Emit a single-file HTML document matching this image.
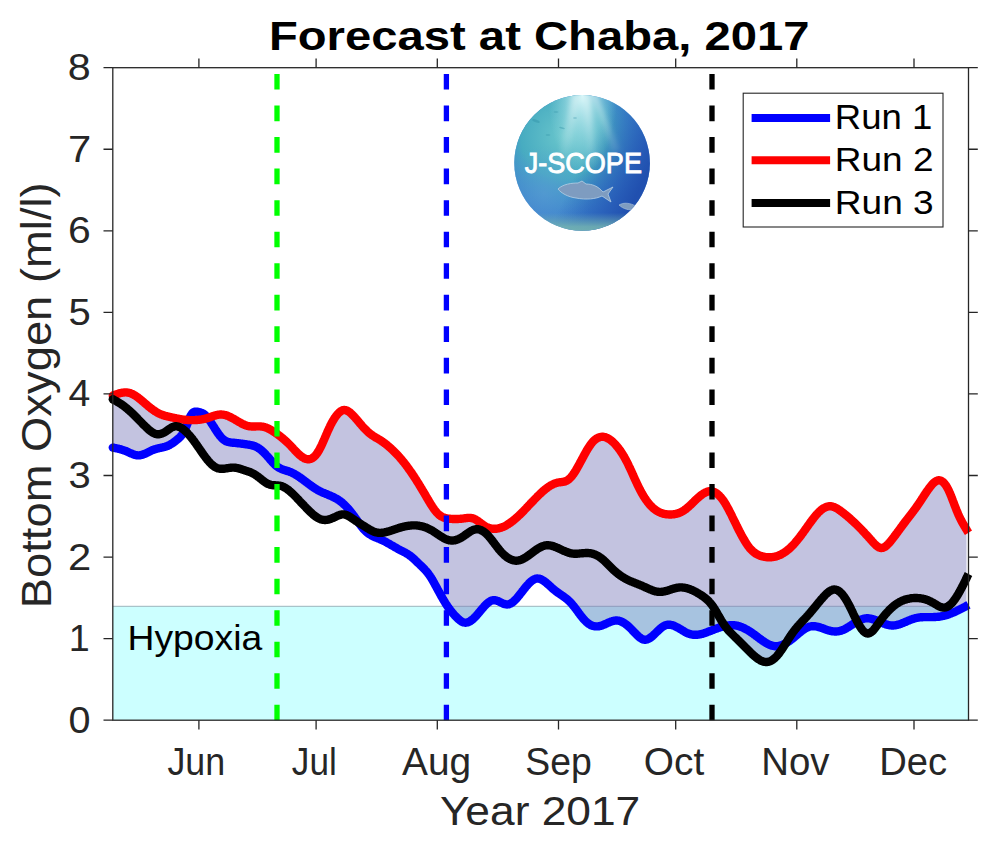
<!DOCTYPE html><html><head><meta charset="utf-8"><style>html,body{margin:0;padding:0;background:#fff;width:1000px;height:848px;overflow:hidden}svg{display:block}text{font-family:"Liberation Sans",sans-serif}</style></head><body>
<svg width="1000" height="848" viewBox="0 0 1000 848">
<rect x="112.8" y="606.31" width="855.70" height="113.89" fill="#ccffff"/>
<line x1="112.8" y1="606.31" x2="968.5" y2="606.31" stroke="#9cb4bc" stroke-width="1"/>
<polygon points="112.8,395.7 113.3,395.5 113.8,395.3 114.3,395.1 114.8,394.9 115.3,394.7 115.8,394.5 116.3,394.3 116.8,394.2 117.3,394.0 117.8,393.8 118.3,393.7 118.8,393.5 119.3,393.4 119.8,393.2 120.3,393.1 120.8,393.0 121.3,392.9 121.8,392.8 122.3,392.7 122.8,392.6 123.3,392.6 123.8,392.5 124.3,392.5 124.8,392.4 125.3,392.4 125.8,392.4 126.3,392.4 126.8,392.5 127.3,392.5 127.8,392.6 128.3,392.7 128.8,392.8 129.3,392.9 129.8,393.0 130.3,393.2 130.8,393.4 131.3,393.6 131.8,393.8 132.3,394.0 132.8,394.2 133.3,394.5 133.8,394.8 134.3,395.1 134.8,395.4 135.3,395.7 135.8,396.0 136.3,396.3 136.8,396.7 137.3,397.0 137.8,397.4 138.3,397.8 138.8,398.2 139.3,398.6 139.8,399.0 140.3,399.4 140.8,399.8 141.3,400.2 141.8,400.6 142.3,401.0 142.8,401.5 143.3,401.9 143.8,402.3 144.3,402.7 144.8,403.2 145.3,403.6 145.8,404.0 146.3,404.5 146.8,404.9 147.3,405.3 147.8,405.7 148.3,406.2 148.8,406.6 149.3,407.0 149.8,407.4 150.3,407.8 150.8,408.2 151.3,408.6 151.8,408.9 152.3,409.3 152.8,409.7 153.3,410.0 153.8,410.4 154.3,410.7 154.8,411.1 155.3,411.4 155.8,411.7 156.3,412.0 156.8,412.3 157.3,412.6 157.8,412.9 158.3,413.1 158.8,413.4 159.3,413.6 159.8,413.9 160.3,414.1 160.8,414.3 161.3,414.5 161.8,414.7 162.3,414.9 162.8,415.1 163.3,415.2 163.8,415.4 164.3,415.6 164.8,415.7 165.3,415.8 165.8,416.0 166.3,416.1 166.8,416.2 167.3,416.4 167.8,416.5 168.3,416.6 168.8,416.7 169.3,416.8 169.8,416.9 170.3,417.0 170.8,417.2 171.3,417.3 171.8,417.4 172.3,417.5 172.8,417.6 173.3,417.7 173.8,417.8 174.3,417.9 174.8,418.0 175.3,418.1 175.8,418.2 176.3,418.3 176.8,418.5 177.3,418.6 177.8,418.7 178.3,418.7 178.8,418.8 179.3,418.9 179.8,419.0 180.3,419.1 180.8,419.2 181.3,419.3 181.8,419.4 182.3,419.4 182.8,419.5 183.3,419.6 183.8,419.6 184.3,419.7 184.8,419.7 185.3,419.8 185.8,419.8 186.3,419.9 186.8,419.9 187.3,420.0 187.8,420.0 188.3,420.0 188.8,420.1 189.3,418.8 189.8,417.6 190.3,416.5 190.8,415.5 191.3,414.7 191.8,413.9 192.3,413.3 192.8,412.8 193.3,412.4 193.8,412.1 194.3,411.8 194.8,411.7 195.3,411.6 195.8,411.6 196.3,411.6 196.8,411.7 197.3,411.7 197.8,411.8 198.3,411.9 198.8,412.0 199.3,412.1 199.8,412.3 200.3,412.4 200.8,412.6 201.3,412.8 201.8,413.0 202.3,413.2 202.8,413.4 203.3,413.7 203.8,414.1 204.3,414.4 204.8,414.8 205.3,415.2 205.8,415.7 206.3,416.2 206.8,416.7 207.3,417.3 207.8,417.9 208.3,417.8 208.8,417.6 209.3,417.4 209.8,417.3 210.3,417.1 210.8,416.9 211.3,416.7 211.8,416.6 212.3,416.4 212.8,416.2 213.3,416.0 213.8,415.9 214.3,415.7 214.8,415.6 215.3,415.4 215.8,415.3 216.3,415.1 216.8,415.0 217.3,414.9 217.8,414.8 218.3,414.7 218.8,414.7 219.3,414.6 219.8,414.5 220.3,414.5 220.8,414.5 221.3,414.5 221.8,414.5 222.3,414.6 222.8,414.6 223.3,414.7 223.8,414.8 224.3,414.9 224.8,415.0 225.3,415.1 225.8,415.2 226.3,415.4 226.8,415.6 227.3,415.7 227.8,415.9 228.3,416.1 228.8,416.3 229.3,416.6 229.8,416.8 230.3,417.0 230.8,417.3 231.3,417.5 231.8,417.8 232.3,418.1 232.8,418.3 233.3,418.6 233.8,418.9 234.3,419.2 234.8,419.5 235.3,419.8 235.8,420.1 236.3,420.4 236.8,420.7 237.3,421.0 237.8,421.3 238.3,421.6 238.8,421.9 239.3,422.2 239.8,422.4 240.3,422.7 240.8,423.0 241.3,423.3 241.8,423.5 242.3,423.8 242.8,424.1 243.3,424.3 243.8,424.5 244.3,424.7 244.8,425.0 245.3,425.2 245.8,425.3 246.3,425.5 246.8,425.7 247.3,425.8 247.8,426.0 248.3,426.1 248.8,426.2 249.3,426.2 249.8,426.3 250.3,426.4 250.8,426.4 251.3,426.5 251.8,426.5 252.3,426.5 252.8,426.5 253.3,426.5 253.8,426.5 254.3,426.5 254.8,426.5 255.3,426.5 255.8,426.5 256.3,426.4 256.8,426.4 257.3,426.4 257.8,426.4 258.3,426.4 258.8,426.4 259.3,426.4 259.8,426.4 260.3,426.4 260.8,426.5 261.3,426.5 261.8,426.6 262.3,426.6 262.8,426.7 263.3,426.8 263.8,426.9 264.3,427.0 264.8,427.2 265.3,427.3 265.8,427.5 266.3,427.7 266.8,427.9 267.3,428.1 267.8,428.3 268.3,428.5 268.8,428.8 269.3,429.0 269.8,429.3 270.3,429.6 270.8,429.9 271.3,430.2 271.8,430.5 272.3,430.8 272.8,431.1 273.3,431.4 273.8,431.7 274.3,432.1 274.8,432.4 275.3,432.7 275.8,433.1 276.3,433.4 276.8,433.8 277.3,434.2 277.8,434.5 278.3,434.9 278.8,435.3 279.3,435.6 279.8,436.0 280.3,436.4 280.8,436.8 281.3,437.2 281.8,437.6 282.3,438.0 282.8,438.4 283.3,438.9 283.8,439.3 284.3,439.7 284.8,440.1 285.3,440.6 285.8,441.0 286.3,441.5 286.8,442.0 287.3,442.4 287.8,442.9 288.3,443.4 288.8,443.9 289.3,444.4 289.8,444.9 290.3,445.4 290.8,445.9 291.3,446.4 291.8,447.0 292.3,447.5 292.8,448.0 293.3,448.6 293.8,449.1 294.3,449.6 294.8,450.2 295.3,450.7 295.8,451.2 296.3,451.7 296.8,452.3 297.3,452.8 297.8,453.3 298.3,453.7 298.8,454.2 299.3,454.7 299.8,455.1 300.3,455.5 300.8,456.0 301.3,456.3 301.8,456.7 302.3,457.1 302.8,457.4 303.3,457.7 303.8,458.0 304.3,458.3 304.8,458.5 305.3,458.7 305.8,458.9 306.3,459.0 306.8,459.1 307.3,459.2 307.8,459.3 308.3,459.3 308.8,459.3 309.3,459.2 309.8,459.1 310.3,459.0 310.8,458.8 311.3,458.6 311.8,458.4 312.3,458.1 312.8,457.8 313.3,457.4 313.8,457.0 314.3,456.6 314.8,456.1 315.3,455.6 315.8,455.0 316.3,454.4 316.8,453.7 317.3,453.0 317.8,452.3 318.3,451.5 318.8,450.6 319.3,449.7 319.8,448.8 320.3,447.9 320.8,446.9 321.3,445.8 321.8,444.8 322.3,443.7 322.8,442.6 323.3,441.4 323.8,440.3 324.3,439.2 324.8,438.0 325.3,436.8 325.8,435.7 326.3,434.5 326.8,433.4 327.3,432.2 327.8,431.1 328.3,430.0 328.8,428.9 329.3,427.8 329.8,426.8 330.3,425.7 330.8,424.7 331.3,423.8 331.8,422.8 332.3,421.9 332.8,421.1 333.3,420.2 333.8,419.4 334.3,418.6 334.8,417.8 335.3,417.1 335.8,416.4 336.3,415.7 336.8,415.1 337.3,414.5 337.8,413.9 338.3,413.4 338.8,412.9 339.3,412.4 339.8,412.0 340.3,411.6 340.8,411.2 341.3,410.9 341.8,410.7 342.3,410.4 342.8,410.2 343.3,410.1 343.8,410.0 344.3,410.0 344.8,410.0 345.3,410.1 345.8,410.2 346.3,410.3 346.8,410.5 347.3,410.8 347.8,411.0 348.3,411.3 348.8,411.7 349.3,412.0 349.8,412.4 350.3,412.8 350.8,413.3 351.3,413.7 351.8,414.2 352.3,414.7 352.8,415.2 353.3,415.7 353.8,416.2 354.3,416.8 354.8,417.3 355.3,417.9 355.8,418.5 356.3,419.0 356.8,419.6 357.3,420.2 357.8,420.8 358.3,421.4 358.8,422.0 359.3,422.6 359.8,423.2 360.3,423.8 360.8,424.3 361.3,424.9 361.8,425.5 362.3,426.1 362.8,426.6 363.3,427.2 363.8,427.7 364.3,428.3 364.8,428.8 365.3,429.3 365.8,429.8 366.3,430.3 366.8,430.8 367.3,431.3 367.8,431.7 368.3,432.2 368.8,432.6 369.3,433.1 369.8,433.5 370.3,433.9 370.8,434.3 371.3,434.6 371.8,435.0 372.3,435.4 372.8,435.7 373.3,436.0 373.8,436.3 374.3,436.6 374.8,437.0 375.3,437.3 375.8,437.5 376.3,437.8 376.8,438.1 377.3,438.4 377.8,438.7 378.3,439.0 378.8,439.3 379.3,439.6 379.8,439.9 380.3,440.2 380.8,440.5 381.3,440.9 381.8,441.2 382.3,441.6 382.8,441.9 383.3,442.3 383.8,442.6 384.3,443.0 384.8,443.4 385.3,443.7 385.8,444.1 386.3,444.5 386.8,444.9 387.3,445.3 387.8,445.8 388.3,446.2 388.8,446.6 389.3,447.0 389.8,447.5 390.3,447.9 390.8,448.4 391.3,448.8 391.8,449.3 392.3,449.7 392.8,450.2 393.3,450.7 393.8,451.2 394.3,451.7 394.8,452.2 395.3,452.7 395.8,453.2 396.3,453.7 396.8,454.2 397.3,454.7 397.8,455.3 398.3,455.8 398.8,456.4 399.3,456.9 399.8,457.5 400.3,458.1 400.8,458.7 401.3,459.3 401.8,459.9 402.3,460.5 402.8,461.1 403.3,461.7 403.8,462.3 404.3,462.9 404.8,463.6 405.3,464.2 405.8,464.9 406.3,465.5 406.8,466.2 407.3,466.9 407.8,467.6 408.3,468.3 408.8,469.0 409.3,469.7 409.8,470.4 410.3,471.1 410.8,471.8 411.3,472.5 411.8,473.3 412.3,474.0 412.8,474.7 413.3,475.5 413.8,476.3 414.3,477.0 414.8,477.8 415.3,478.6 415.8,479.3 416.3,480.1 416.8,480.9 417.3,481.7 417.8,482.5 418.3,483.3 418.8,484.1 419.3,484.9 419.8,485.7 420.3,486.6 420.8,487.4 421.3,488.2 421.8,489.1 422.3,489.9 422.8,490.7 423.3,491.6 423.8,492.4 424.3,493.3 424.8,494.1 425.3,495.0 425.8,495.8 426.3,496.7 426.8,497.6 427.3,498.4 427.8,499.3 428.3,500.1 428.8,501.0 429.3,501.8 429.8,502.6 430.3,503.4 430.8,504.2 431.3,505.0 431.8,505.8 432.3,506.6 432.8,507.3 433.3,508.1 433.8,508.8 434.3,509.5 434.8,510.1 435.3,510.8 435.8,511.4 436.3,512.0 436.8,512.6 437.3,513.1 437.8,513.6 438.3,514.1 438.8,514.6 439.3,515.0 439.8,515.4 440.3,515.7 440.8,516.1 441.3,516.4 441.8,516.7 442.3,516.9 442.8,517.1 443.3,517.4 443.8,517.6 444.3,517.7 444.8,517.9 445.3,518.0 445.8,518.1 446.3,518.3 446.8,518.4 447.3,518.5 447.8,518.5 448.3,518.6 448.8,518.7 449.3,518.7 449.8,518.8 450.3,518.8 450.8,518.9 451.3,518.9 451.8,518.9 452.3,519.0 452.8,519.0 453.3,519.0 453.8,519.0 454.3,519.0 454.8,519.0 455.3,519.0 455.8,519.0 456.3,519.0 456.8,519.0 457.3,519.0 457.8,519.0 458.3,519.0 458.8,518.9 459.3,518.9 459.8,518.9 460.3,518.8 460.8,518.8 461.3,518.7 461.8,518.7 462.3,518.6 462.8,518.6 463.3,518.5 463.8,518.4 464.3,518.4 464.8,518.3 465.3,518.2 465.8,518.1 466.3,518.1 466.8,518.0 467.3,518.0 467.8,517.9 468.3,517.9 468.8,517.9 469.3,517.9 469.8,517.9 470.3,517.9 470.8,518.0 471.3,518.0 471.8,518.1 472.3,518.2 472.8,518.4 473.3,518.5 473.8,518.7 474.3,518.9 474.8,519.1 475.3,519.4 475.8,519.7 476.3,520.0 476.8,520.3 477.3,520.6 477.8,521.0 478.3,521.4 478.8,521.7 479.3,522.1 479.8,522.5 480.3,522.9 480.8,523.2 481.3,523.6 481.8,524.0 482.3,524.4 482.8,524.7 483.3,525.1 483.8,525.4 484.3,525.7 484.8,526.0 485.3,526.3 485.8,526.6 486.3,526.9 486.8,527.1 487.3,527.3 487.8,527.5 488.3,527.7 488.8,527.9 489.3,528.1 489.8,528.2 490.3,528.3 490.8,528.4 491.3,528.5 491.8,528.6 492.3,528.7 492.8,528.7 493.3,528.8 493.8,528.8 494.3,528.8 494.8,528.8 495.3,528.8 495.8,528.8 496.3,528.7 496.8,528.7 497.3,528.6 497.8,528.5 498.3,528.4 498.8,528.3 499.3,528.2 499.8,528.0 500.3,527.9 500.8,527.7 501.3,527.6 501.8,527.4 502.3,527.2 502.8,527.0 503.3,526.8 503.8,526.6 504.3,526.3 504.8,526.1 505.3,525.8 505.8,525.6 506.3,525.3 506.8,525.0 507.3,524.7 507.8,524.4 508.3,524.1 508.8,523.7 509.3,523.4 509.8,523.1 510.3,522.7 510.8,522.4 511.3,522.0 511.8,521.6 512.3,521.2 512.8,520.9 513.3,520.5 513.8,520.0 514.3,519.6 514.8,519.2 515.3,518.8 515.8,518.4 516.3,517.9 516.8,517.5 517.3,517.0 517.8,516.6 518.3,516.1 518.8,515.6 519.3,515.1 519.8,514.7 520.3,514.2 520.8,513.7 521.3,513.2 521.8,512.7 522.3,512.2 522.8,511.7 523.3,511.2 523.8,510.7 524.3,510.1 524.8,509.6 525.3,509.1 525.8,508.6 526.3,508.1 526.8,507.5 527.3,507.0 527.8,506.5 528.3,505.9 528.8,505.4 529.3,504.9 529.8,504.4 530.3,503.8 530.8,503.3 531.3,502.8 531.8,502.2 532.3,501.7 532.8,501.2 533.3,500.7 533.8,500.1 534.3,499.6 534.8,499.1 535.3,498.6 535.8,498.1 536.3,497.6 536.8,497.1 537.3,496.5 537.8,496.1 538.3,495.6 538.8,495.1 539.3,494.6 539.8,494.1 540.3,493.6 540.8,493.2 541.3,492.7 541.8,492.2 542.3,491.8 542.8,491.3 543.3,490.9 543.8,490.5 544.3,490.1 544.8,489.6 545.3,489.2 545.8,488.8 546.3,488.5 546.8,488.1 547.3,487.7 547.8,487.3 548.3,487.0 548.8,486.7 549.3,486.3 549.8,486.0 550.3,485.7 550.8,485.4 551.3,485.1 551.8,484.8 552.3,484.6 552.8,484.3 553.3,484.1 553.8,483.9 554.3,483.7 554.8,483.5 555.3,483.3 555.8,483.1 556.3,483.0 556.8,482.8 557.3,482.7 557.8,482.6 558.3,482.5 558.8,482.4 559.3,482.4 559.8,482.3 560.3,482.2 560.8,482.2 561.3,482.1 561.8,482.0 562.3,482.0 562.8,481.9 563.3,481.8 563.8,481.7 564.3,481.6 564.8,481.4 565.3,481.3 565.8,481.1 566.3,480.9 566.8,480.6 567.3,480.3 567.8,480.0 568.3,479.7 568.8,479.3 569.3,478.9 569.8,478.4 570.3,477.9 570.8,477.4 571.3,476.8 571.8,476.2 572.3,475.6 572.8,474.9 573.3,474.2 573.8,473.5 574.3,472.7 574.8,472.0 575.3,471.2 575.8,470.4 576.3,469.5 576.8,468.7 577.3,467.8 577.8,466.9 578.3,466.0 578.8,465.1 579.3,464.2 579.8,463.3 580.3,462.4 580.8,461.4 581.3,460.5 581.8,459.6 582.3,458.6 582.8,457.7 583.3,456.8 583.8,455.8 584.3,454.9 584.8,454.0 585.3,453.1 585.8,452.2 586.3,451.3 586.8,450.5 587.3,449.6 587.8,448.8 588.3,448.0 588.8,447.2 589.3,446.4 589.8,445.7 590.3,445.0 590.8,444.3 591.3,443.6 591.8,443.0 592.3,442.4 592.8,441.8 593.3,441.3 593.8,440.8 594.3,440.3 594.8,439.9 595.3,439.5 595.8,439.1 596.3,438.8 596.8,438.4 597.3,438.2 597.8,437.9 598.3,437.7 598.8,437.5 599.3,437.3 599.8,437.1 600.3,437.0 600.8,436.9 601.3,436.9 601.8,436.8 602.3,436.8 602.8,436.8 603.3,436.8 603.8,436.9 604.3,437.0 604.8,437.1 605.3,437.2 605.8,437.4 606.3,437.6 606.8,437.8 607.3,438.0 607.8,438.3 608.3,438.5 608.8,438.8 609.3,439.2 609.8,439.5 610.3,439.8 610.8,440.2 611.3,440.6 611.8,441.0 612.3,441.5 612.8,441.9 613.3,442.4 613.8,442.9 614.3,443.4 614.8,443.9 615.3,444.4 615.8,445.0 616.3,445.6 616.8,446.2 617.3,446.8 617.8,447.4 618.3,448.0 618.8,448.7 619.3,449.4 619.8,450.0 620.3,450.8 620.8,451.5 621.3,452.2 621.8,453.0 622.3,453.8 622.8,454.6 623.3,455.4 623.8,456.3 624.3,457.1 624.8,458.0 625.3,458.9 625.8,459.8 626.3,460.8 626.8,461.7 627.3,462.7 627.8,463.7 628.3,464.7 628.8,465.8 629.3,466.8 629.8,467.9 630.3,468.9 630.8,470.0 631.3,471.1 631.8,472.2 632.3,473.3 632.8,474.4 633.3,475.6 633.8,476.7 634.3,477.8 634.8,478.9 635.3,480.0 635.8,481.1 636.3,482.2 636.8,483.2 637.3,484.3 637.8,485.4 638.3,486.4 638.8,487.4 639.3,488.4 639.8,489.4 640.3,490.3 640.8,491.3 641.3,492.2 641.8,493.1 642.3,494.0 642.8,494.8 643.3,495.7 643.8,496.5 644.3,497.3 644.8,498.1 645.3,498.8 645.8,499.5 646.3,500.3 646.8,500.9 647.3,501.6 647.8,502.3 648.3,502.9 648.8,503.5 649.3,504.1 649.8,504.7 650.3,505.3 650.8,505.8 651.3,506.3 651.8,506.8 652.3,507.3 652.8,507.7 653.3,508.2 653.8,508.6 654.3,509.0 654.8,509.4 655.3,509.8 655.8,510.1 656.3,510.5 656.8,510.8 657.3,511.1 657.8,511.4 658.3,511.7 658.8,511.9 659.3,512.2 659.8,512.4 660.3,512.6 660.8,512.8 661.3,513.0 661.8,513.2 662.3,513.4 662.8,513.5 663.3,513.6 663.8,513.8 664.3,513.9 664.8,514.0 665.3,514.1 665.8,514.2 666.3,514.2 666.8,514.3 667.3,514.4 667.8,514.4 668.3,514.4 668.8,514.5 669.3,514.5 669.8,514.5 670.3,514.5 670.8,514.5 671.3,514.5 671.8,514.5 672.3,514.4 672.8,514.4 673.3,514.3 673.8,514.3 674.3,514.2 674.8,514.1 675.3,514.0 675.8,513.9 676.3,513.8 676.8,513.7 677.3,513.5 677.8,513.4 678.3,513.2 678.8,513.1 679.3,512.9 679.8,512.7 680.3,512.4 680.8,512.2 681.3,512.0 681.8,511.7 682.3,511.4 682.8,511.1 683.3,510.8 683.8,510.5 684.3,510.2 684.8,509.8 685.3,509.4 685.8,509.1 686.3,508.7 686.8,508.3 687.3,507.8 687.8,507.4 688.3,507.0 688.8,506.5 689.3,506.1 689.8,505.6 690.3,505.1 690.8,504.7 691.3,504.2 691.8,503.7 692.3,503.2 692.8,502.7 693.3,502.2 693.8,501.8 694.3,501.3 694.8,500.8 695.3,500.3 695.8,499.8 696.3,499.4 696.8,498.9 697.3,498.4 697.8,498.0 698.3,497.5 698.8,497.1 699.3,496.7 699.8,496.2 700.3,495.8 700.8,495.4 701.3,495.1 701.8,494.7 702.3,494.3 702.8,494.0 703.3,493.7 703.8,493.4 704.3,493.1 704.8,492.8 705.3,492.5 705.8,492.3 706.3,492.1 706.8,491.9 707.3,491.7 707.8,491.6 708.3,491.4 708.8,491.3 709.3,491.3 709.8,491.2 710.3,491.2 710.8,491.2 711.3,491.2 711.8,491.3 712.3,491.4 712.8,491.5 713.3,491.7 713.8,491.8 714.3,492.0 714.8,492.3 715.3,492.5 715.8,492.8 716.3,493.1 716.8,493.5 717.3,493.9 717.8,494.3 718.3,494.7 718.8,495.2 719.3,495.6 719.8,496.2 720.3,496.7 720.8,497.3 721.3,497.9 721.8,498.5 722.3,499.1 722.8,499.8 723.3,500.5 723.8,501.3 724.3,502.0 724.8,502.8 725.3,503.6 725.8,504.5 726.3,505.3 726.8,506.2 727.3,507.1 727.8,508.0 728.3,508.9 728.8,509.9 729.3,510.8 729.8,511.8 730.3,512.8 730.8,513.7 731.3,514.7 731.8,515.7 732.3,516.8 732.8,517.8 733.3,518.8 733.8,519.8 734.3,520.8 734.8,521.9 735.3,522.9 735.8,523.9 736.3,524.9 736.8,526.0 737.3,527.0 737.8,528.0 738.3,529.0 738.8,530.0 739.3,531.0 739.8,531.9 740.3,532.9 740.8,533.8 741.3,534.8 741.8,535.7 742.3,536.6 742.8,537.5 743.3,538.4 743.8,539.3 744.3,540.1 744.8,541.0 745.3,541.8 745.8,542.6 746.3,543.4 746.8,544.1 747.3,544.9 747.8,545.6 748.3,546.3 748.8,546.9 749.3,547.6 749.8,548.2 750.3,548.7 750.8,549.3 751.3,549.8 751.8,550.3 752.3,550.8 752.8,551.3 753.3,551.7 753.8,552.1 754.3,552.5 754.8,552.9 755.3,553.2 755.8,553.6 756.3,553.9 756.8,554.2 757.3,554.4 757.8,554.7 758.3,554.9 758.8,555.2 759.3,555.4 759.8,555.6 760.3,555.8 760.8,555.9 761.3,556.1 761.8,556.2 762.3,556.4 762.8,556.5 763.3,556.6 763.8,556.7 764.3,556.8 764.8,556.9 765.3,557.0 765.8,557.1 766.3,557.1 766.8,557.2 767.3,557.2 767.8,557.2 768.3,557.3 768.8,557.3 769.3,557.3 769.8,557.3 770.3,557.3 770.8,557.2 771.3,557.2 771.8,557.2 772.3,557.1 772.8,557.0 773.3,557.0 773.8,556.9 774.3,556.8 774.8,556.7 775.3,556.6 775.8,556.4 776.3,556.3 776.8,556.1 777.3,556.0 777.8,555.8 778.3,555.6 778.8,555.4 779.3,555.2 779.8,555.0 780.3,554.8 780.8,554.5 781.3,554.3 781.8,554.0 782.3,553.7 782.8,553.4 783.3,553.1 783.8,552.8 784.3,552.5 784.8,552.2 785.3,551.8 785.8,551.5 786.3,551.1 786.8,550.7 787.3,550.3 787.8,549.9 788.3,549.5 788.8,549.1 789.3,548.7 789.8,548.2 790.3,547.8 790.8,547.3 791.3,546.8 791.8,546.3 792.3,545.8 792.8,545.3 793.3,544.7 793.8,544.2 794.3,543.6 794.8,543.1 795.3,542.5 795.8,541.9 796.3,541.3 796.8,540.7 797.3,540.1 797.8,539.5 798.3,538.9 798.8,538.3 799.3,537.6 799.8,537.0 800.3,536.3 800.8,535.7 801.3,535.0 801.8,534.3 802.3,533.6 802.8,533.0 803.3,532.3 803.8,531.6 804.3,530.9 804.8,530.2 805.3,529.5 805.8,528.8 806.3,528.1 806.8,527.4 807.3,526.7 807.8,526.0 808.3,525.3 808.8,524.6 809.3,523.9 809.8,523.2 810.3,522.5 810.8,521.8 811.3,521.2 811.8,520.5 812.3,519.8 812.8,519.2 813.3,518.5 813.8,517.9 814.3,517.2 814.8,516.6 815.3,516.0 815.8,515.4 816.3,514.8 816.8,514.2 817.3,513.7 817.8,513.1 818.3,512.6 818.8,512.1 819.3,511.6 819.8,511.2 820.3,510.7 820.8,510.3 821.3,509.9 821.8,509.5 822.3,509.1 822.8,508.7 823.3,508.4 823.8,508.1 824.3,507.8 824.8,507.6 825.3,507.3 825.8,507.1 826.3,506.9 826.8,506.8 827.3,506.6 827.8,506.5 828.3,506.4 828.8,506.3 829.3,506.3 829.8,506.3 830.3,506.3 830.8,506.3 831.3,506.3 831.8,506.4 832.3,506.5 832.8,506.7 833.3,506.8 833.8,507.0 834.3,507.2 834.8,507.4 835.3,507.6 835.8,507.9 836.3,508.1 836.8,508.4 837.3,508.7 837.8,509.0 838.3,509.3 838.8,509.7 839.3,510.0 839.8,510.4 840.3,510.7 840.8,511.1 841.3,511.5 841.8,511.8 842.3,512.2 842.8,512.6 843.3,513.0 843.8,513.4 844.3,513.8 844.8,514.2 845.3,514.6 845.8,515.0 846.3,515.4 846.8,515.8 847.3,516.2 847.8,516.6 848.3,517.1 848.8,517.5 849.3,517.9 849.8,518.4 850.3,518.8 850.8,519.3 851.3,519.7 851.8,520.2 852.3,520.6 852.8,521.1 853.3,521.6 853.8,522.0 854.3,522.5 854.8,523.0 855.3,523.4 855.8,523.9 856.3,524.4 856.8,524.9 857.3,525.4 857.8,525.9 858.3,526.4 858.8,526.9 859.3,527.4 859.8,527.9 860.3,528.4 860.8,528.9 861.3,529.4 861.8,529.9 862.3,530.4 862.8,531.0 863.3,531.5 863.8,532.0 864.3,532.5 864.8,533.1 865.3,533.6 865.8,534.2 866.3,534.7 866.8,535.2 867.3,535.8 867.8,536.3 868.3,536.9 868.8,537.5 869.3,538.0 869.8,538.6 870.3,539.1 870.8,539.7 871.3,540.3 871.8,540.9 872.3,541.4 872.8,542.0 873.3,542.5 873.8,543.1 874.3,543.6 874.8,544.1 875.3,544.6 875.8,545.1 876.3,545.5 876.8,546.0 877.3,546.3 877.8,546.7 878.3,547.0 878.8,547.3 879.3,547.5 879.8,547.7 880.3,547.9 880.8,548.0 881.3,548.0 881.8,548.0 882.3,547.9 882.8,547.8 883.3,547.6 883.8,547.4 884.3,547.2 884.8,546.9 885.3,546.6 885.8,546.2 886.3,545.8 886.8,545.3 887.3,544.9 887.8,544.4 888.3,543.9 888.8,543.3 889.3,542.8 889.8,542.2 890.3,541.6 890.8,541.0 891.3,540.4 891.8,539.7 892.3,539.1 892.8,538.4 893.3,537.8 893.8,537.1 894.3,536.5 894.8,535.8 895.3,535.2 895.8,534.5 896.3,533.8 896.8,533.1 897.3,532.5 897.8,531.8 898.3,531.1 898.8,530.4 899.3,529.8 899.8,529.1 900.3,528.4 900.8,527.7 901.3,527.0 901.8,526.4 902.3,525.7 902.8,525.0 903.3,524.3 903.8,523.7 904.3,523.0 904.8,522.3 905.3,521.7 905.8,521.0 906.3,520.4 906.8,519.7 907.3,519.1 907.8,518.4 908.3,517.8 908.8,517.1 909.3,516.5 909.8,515.9 910.3,515.2 910.8,514.6 911.3,513.9 911.8,513.3 912.3,512.6 912.8,511.9 913.3,511.3 913.8,510.6 914.3,509.9 914.8,509.3 915.3,508.6 915.8,507.9 916.3,507.2 916.8,506.5 917.3,505.8 917.8,505.1 918.3,504.3 918.8,503.6 919.3,502.9 919.8,502.1 920.3,501.4 920.8,500.6 921.3,499.9 921.8,499.1 922.3,498.3 922.8,497.6 923.3,496.8 923.8,496.0 924.3,495.3 924.8,494.5 925.3,493.8 925.8,493.0 926.3,492.3 926.8,491.5 927.3,490.8 927.8,490.1 928.3,489.4 928.8,488.7 929.3,488.0 929.8,487.4 930.3,486.7 930.8,486.1 931.3,485.5 931.8,484.9 932.3,484.3 932.8,483.8 933.3,483.3 933.8,482.8 934.3,482.4 934.8,482.0 935.3,481.6 935.8,481.3 936.3,481.0 936.8,480.8 937.3,480.6 937.8,480.4 938.3,480.3 938.8,480.3 939.3,480.3 939.8,480.4 940.3,480.5 940.8,480.7 941.3,480.9 941.8,481.2 942.3,481.5 942.8,481.9 943.3,482.3 943.8,482.8 944.3,483.4 944.8,484.0 945.3,484.6 945.8,485.3 946.3,486.1 946.8,486.9 947.3,487.8 947.8,488.7 948.3,489.7 948.8,490.7 949.3,491.8 949.8,493.0 950.3,494.1 950.8,495.3 951.3,496.6 951.8,497.9 952.3,499.1 952.8,500.5 953.3,501.8 953.8,503.1 954.3,504.4 954.8,505.7 955.3,507.0 955.8,508.3 956.3,509.6 956.8,510.8 957.3,512.1 957.8,513.2 958.3,514.4 958.8,515.5 959.3,516.6 959.8,517.6 960.3,518.6 960.8,519.6 961.3,520.6 961.8,521.5 962.3,522.5 962.8,523.4 963.3,524.3 963.8,525.1 964.3,526.0 964.8,526.8 965.3,527.6 965.8,528.5 966.3,529.3 966.5,529.6 966.5,605.9 966.3,606.0 965.8,606.3 965.3,606.6 964.8,606.8 964.3,607.1 963.8,607.3 963.3,607.6 962.8,607.9 962.3,608.1 961.8,608.4 961.3,608.7 960.8,608.9 960.3,609.2 959.8,609.4 959.3,609.7 958.8,609.9 958.3,610.2 957.8,610.4 957.3,610.7 956.8,610.9 956.3,611.1 955.8,611.4 955.3,611.6 954.8,611.8 954.3,612.1 953.8,612.3 953.3,612.5 952.8,612.7 952.3,612.9 951.8,613.1 951.3,613.3 950.8,613.5 950.3,613.7 949.8,613.9 949.3,614.1 948.8,614.3 948.3,614.4 947.8,614.6 947.3,614.8 946.8,614.9 946.3,615.1 945.8,615.2 945.3,615.4 944.8,615.5 944.3,615.7 943.8,615.8 943.3,615.9 942.8,616.0 942.3,616.1 941.8,616.2 941.3,616.3 940.8,616.4 940.3,616.5 939.8,616.6 939.3,616.7 938.8,616.7 938.3,616.8 937.8,616.8 937.3,616.9 936.8,616.9 936.3,616.9 935.8,617.0 935.3,617.0 934.8,617.0 934.3,617.0 933.8,617.0 933.3,617.1 932.8,617.1 932.3,617.1 931.8,617.1 931.3,617.1 930.8,617.1 930.3,617.1 929.8,617.1 929.3,617.1 928.8,617.1 928.3,617.1 927.8,617.1 927.3,617.1 926.8,617.1 926.3,617.1 925.8,617.1 925.3,617.1 924.8,617.1 924.3,617.1 923.8,617.1 923.3,617.1 922.8,617.2 922.3,617.2 921.8,617.2 921.3,617.2 920.8,617.3 920.3,617.3 919.8,617.4 919.3,617.5 918.8,617.5 918.3,617.6 917.8,617.7 917.3,617.8 916.8,617.9 916.3,618.0 915.8,618.1 915.3,618.2 914.8,618.3 914.3,618.5 913.8,618.6 913.3,618.8 912.8,618.9 912.3,619.1 911.8,619.3 911.3,619.5 910.8,619.7 910.3,619.9 909.8,620.1 909.3,620.3 908.8,620.5 908.3,620.7 907.8,620.9 907.3,621.1 906.8,621.3 906.3,621.5 905.8,621.8 905.3,622.0 904.8,622.2 904.3,622.4 903.8,622.6 903.3,622.8 902.8,623.0 902.3,623.2 901.8,623.4 901.3,623.6 900.8,623.8 900.3,624.0 899.8,624.1 899.3,624.3 898.8,624.5 898.3,624.6 897.8,624.7 897.3,624.9 896.8,625.0 896.3,625.1 895.8,625.2 895.3,625.3 894.8,625.4 894.3,625.4 893.8,625.5 893.3,625.5 892.8,625.5 892.3,625.5 891.8,625.5 891.3,625.5 890.8,625.4 890.3,625.4 889.8,625.3 889.3,625.2 888.8,625.1 888.3,625.0 887.8,624.9 887.3,624.7 886.8,624.6 886.3,624.4 885.8,624.3 885.3,624.1 884.8,623.9 884.3,623.7 883.8,623.6 883.3,623.4 882.8,623.2 882.3,623.0 881.8,622.8 881.3,622.5 880.8,622.3 880.3,622.1 879.8,621.9 879.3,622.2 878.8,622.9 878.3,623.6 877.8,624.3 877.3,625.0 876.8,625.7 876.3,626.4 875.8,627.1 875.3,627.7 874.8,628.4 874.3,629.0 873.8,629.6 873.3,630.2 872.8,630.7 872.3,631.2 871.8,631.6 871.3,632.1 870.8,632.4 870.3,632.7 869.8,633.0 869.3,633.2 868.8,633.4 868.3,633.5 867.8,633.5 867.3,633.5 866.8,633.4 866.3,633.2 865.8,633.0 865.3,632.7 864.8,632.3 864.3,631.9 863.8,631.5 863.3,631.0 862.8,630.4 862.3,629.9 861.8,629.2 861.3,628.5 860.8,627.8 860.3,627.1 859.8,626.3 859.3,625.4 858.8,624.6 858.3,623.7 857.8,622.8 857.3,621.8 856.8,621.7 856.3,622.0 855.8,622.3 855.3,622.6 854.8,622.9 854.3,623.2 853.8,623.6 853.3,623.9 852.8,624.2 852.3,624.5 851.8,624.9 851.3,625.2 850.8,625.5 850.3,625.8 849.8,626.1 849.3,626.5 848.8,626.8 848.3,627.1 847.8,627.4 847.3,627.7 846.8,628.0 846.3,628.3 845.8,628.5 845.3,628.8 844.8,629.1 844.3,629.3 843.8,629.6 843.3,629.8 842.8,630.0 842.3,630.2 841.8,630.4 841.3,630.6 840.8,630.7 840.3,630.9 839.8,631.0 839.3,631.1 838.8,631.2 838.3,631.3 837.8,631.4 837.3,631.4 836.8,631.5 836.3,631.5 835.8,631.5 835.3,631.5 834.8,631.5 834.3,631.5 833.8,631.4 833.3,631.4 832.8,631.3 832.3,631.3 831.8,631.2 831.3,631.1 830.8,631.0 830.3,630.9 829.8,630.7 829.3,630.6 828.8,630.5 828.3,630.3 827.8,630.1 827.3,630.0 826.8,629.8 826.3,629.6 825.8,629.5 825.3,629.3 824.8,629.1 824.3,628.9 823.8,628.7 823.3,628.6 822.8,628.4 822.3,628.2 821.8,628.0 821.3,627.8 820.8,627.7 820.3,627.5 819.8,627.4 819.3,627.2 818.8,627.1 818.3,626.9 817.8,626.8 817.3,626.7 816.8,626.6 816.3,626.5 815.8,626.4 815.3,626.3 814.8,626.3 814.3,626.2 813.8,626.2 813.3,626.2 812.8,626.2 812.3,626.2 811.8,626.2 811.3,626.3 810.8,626.4 810.3,626.5 809.8,626.6 809.3,626.7 808.8,626.9 808.3,627.1 807.8,627.3 807.3,627.5 806.8,627.7 806.3,628.0 805.8,628.2 805.3,628.5 804.8,628.8 804.3,629.1 803.8,629.5 803.3,629.8 802.8,630.2 802.3,630.5 801.8,630.9 801.3,631.3 800.8,631.7 800.3,632.1 799.8,632.5 799.3,632.9 798.8,633.3 798.3,633.7 797.8,634.1 797.3,634.6 796.8,635.0 796.3,635.4 795.8,635.8 795.3,636.3 794.8,636.7 794.3,637.1 793.8,637.5 793.3,638.0 792.8,638.4 792.3,638.8 791.8,639.2 791.3,639.5 790.8,639.9 790.3,640.3 789.8,640.7 789.3,641.0 788.8,641.4 788.3,641.7 787.8,642.0 787.3,642.4 786.8,642.7 786.3,643.0 785.8,643.3 785.3,644.1 784.8,644.9 784.3,645.6 783.8,646.4 783.3,647.2 782.8,648.0 782.3,648.7 781.8,649.5 781.3,650.2 780.8,650.9 780.3,651.6 779.8,652.3 779.3,653.0 778.8,653.7 778.3,654.3 777.8,654.9 777.3,655.5 776.8,656.1 776.3,656.6 775.8,657.1 775.3,657.6 774.8,658.1 774.3,658.5 773.8,658.9 773.3,659.3 772.8,659.7 772.3,660.0 771.8,660.4 771.3,660.6 770.8,660.9 770.3,661.1 769.8,661.4 769.3,661.5 768.8,661.7 768.3,661.8 767.8,661.9 767.3,662.0 766.8,662.0 766.3,662.0 765.8,662.0 765.3,662.0 764.8,661.9 764.3,661.8 763.8,661.7 763.3,661.6 762.8,661.4 762.3,661.2 761.8,661.0 761.3,660.8 760.8,660.6 760.3,660.3 759.8,660.0 759.3,659.7 758.8,659.4 758.3,659.1 757.8,658.7 757.3,658.4 756.8,658.0 756.3,657.6 755.8,657.2 755.3,656.8 754.8,656.4 754.3,656.0 753.8,655.5 753.3,655.1 752.8,654.6 752.3,654.2 751.8,653.7 751.3,653.2 750.8,652.8 750.3,652.3 749.8,651.8 749.3,651.3 748.8,650.8 748.3,650.3 747.8,649.8 747.3,649.3 746.8,648.8 746.3,648.3 745.8,647.8 745.3,647.3 744.8,646.7 744.3,646.2 743.8,645.7 743.3,645.2 742.8,644.7 742.3,644.2 741.8,643.7 741.3,643.2 740.8,642.7 740.3,642.2 739.8,641.7 739.3,641.2 738.8,640.7 738.3,640.2 737.8,639.7 737.3,639.3 736.8,638.8 736.3,638.3 735.8,637.8 735.3,637.4 734.8,636.9 734.3,636.4 733.8,635.9 733.3,635.4 732.8,634.9 732.3,634.4 731.8,633.9 731.3,633.4 730.8,632.9 730.3,632.4 729.8,631.8 729.3,631.3 728.8,630.7 728.3,630.2 727.8,629.6 727.3,629.0 726.8,628.4 726.3,627.7 725.8,627.1 725.3,626.4 724.8,626.0 724.3,626.1 723.8,626.3 723.3,626.4 722.8,626.5 722.3,626.6 721.8,626.8 721.3,626.9 720.8,627.1 720.3,627.2 719.8,627.4 719.3,627.6 718.8,627.7 718.3,627.9 717.8,628.1 717.3,628.3 716.8,628.4 716.3,628.6 715.8,628.8 715.3,629.0 714.8,629.2 714.3,629.4 713.8,629.6 713.3,629.8 712.8,630.0 712.3,630.2 711.8,630.4 711.3,630.6 710.8,630.8 710.3,631.0 709.8,631.2 709.3,631.4 708.8,631.5 708.3,631.7 707.8,631.9 707.3,632.1 706.8,632.3 706.3,632.5 705.8,632.7 705.3,632.8 704.8,633.0 704.3,633.2 703.8,633.3 703.3,633.5 702.8,633.6 702.3,633.8 701.8,633.9 701.3,634.0 700.8,634.2 700.3,634.3 699.8,634.4 699.3,634.5 698.8,634.5 698.3,634.6 697.8,634.7 697.3,634.7 696.8,634.8 696.3,634.8 695.8,634.8 695.3,634.8 694.8,634.8 694.3,634.8 693.8,634.8 693.3,634.7 692.8,634.7 692.3,634.6 691.8,634.5 691.3,634.4 690.8,634.3 690.3,634.2 689.8,634.0 689.3,633.9 688.8,633.7 688.3,633.5 687.8,633.3 687.3,633.1 686.8,632.8 686.3,632.6 685.8,632.3 685.3,632.1 684.8,631.8 684.3,631.5 683.8,631.2 683.3,630.9 682.8,630.6 682.3,630.3 681.8,630.0 681.3,629.7 680.8,629.4 680.3,629.1 679.8,628.8 679.3,628.5 678.8,628.2 678.3,627.9 677.8,627.7 677.3,627.4 676.8,627.1 676.3,626.9 675.8,626.6 675.3,626.4 674.8,626.1 674.3,625.9 673.8,625.7 673.3,625.5 672.8,625.4 672.3,625.2 671.8,625.1 671.3,625.0 670.8,624.9 670.3,624.8 669.8,624.7 669.3,624.7 668.8,624.7 668.3,624.7 667.8,624.7 667.3,624.8 666.8,624.9 666.3,625.0 665.8,625.2 665.3,625.3 664.8,625.5 664.3,625.8 663.8,626.1 663.3,626.4 662.8,626.7 662.3,627.0 661.8,627.4 661.3,627.8 660.8,628.2 660.3,628.6 659.8,629.1 659.3,629.5 658.8,630.0 658.3,630.5 657.8,631.0 657.3,631.4 656.8,631.9 656.3,632.4 655.8,632.9 655.3,633.4 654.8,633.9 654.3,634.4 653.8,634.8 653.3,635.3 652.8,635.7 652.3,636.2 651.8,636.6 651.3,637.0 650.8,637.4 650.3,637.7 649.8,638.1 649.3,638.4 648.8,638.7 648.3,638.9 647.8,639.1 647.3,639.3 646.8,639.5 646.3,639.6 645.8,639.7 645.3,639.7 644.8,639.7 644.3,639.7 643.8,639.6 643.3,639.4 642.8,639.3 642.3,639.1 641.8,638.8 641.3,638.5 640.8,638.2 640.3,637.9 639.8,637.5 639.3,637.1 638.8,636.7 638.3,636.3 637.8,635.8 637.3,635.3 636.8,634.9 636.3,634.4 635.8,633.8 635.3,633.3 634.8,632.8 634.3,632.3 633.8,631.7 633.3,631.2 632.8,630.7 632.3,630.1 631.8,629.6 631.3,629.1 630.8,628.6 630.3,628.1 629.8,627.6 629.3,627.1 628.8,626.7 628.3,626.2 627.8,625.8 627.3,625.4 626.8,625.0 626.3,624.6 625.8,624.2 625.3,623.8 624.8,623.5 624.3,623.2 623.8,622.8 623.3,622.5 622.8,622.3 622.3,622.0 621.8,621.8 621.3,621.5 620.8,621.3 620.3,621.2 619.8,621.0 619.3,620.8 618.8,620.7 618.3,620.6 617.8,620.6 617.3,620.5 616.8,620.5 616.3,620.5 615.8,620.5 615.3,620.5 614.8,620.6 614.3,620.7 613.8,620.8 613.3,620.9 612.8,621.0 612.3,621.2 611.8,621.3 611.3,621.5 610.8,621.7 610.3,621.9 609.8,622.1 609.3,622.3 608.8,622.5 608.3,622.7 607.8,622.9 607.3,623.1 606.8,623.4 606.3,623.6 605.8,623.8 605.3,624.0 604.8,624.3 604.3,624.5 603.8,624.7 603.3,624.9 602.8,625.1 602.3,625.3 601.8,625.5 601.3,625.6 600.8,625.8 600.3,625.9 599.8,626.0 599.3,626.2 598.8,626.3 598.3,626.3 597.8,626.4 597.3,626.4 596.8,626.4 596.3,626.4 595.8,626.4 595.3,626.4 594.8,626.3 594.3,626.2 593.8,626.1 593.3,626.0 592.8,625.8 592.3,625.7 591.8,625.5 591.3,625.3 590.8,625.0 590.3,624.8 589.8,624.5 589.3,624.2 588.8,623.9 588.3,623.5 587.8,623.1 587.3,622.7 586.8,622.3 586.3,621.9 585.8,621.4 585.3,620.9 584.8,620.4 584.3,619.8 583.8,619.3 583.3,618.7 582.8,618.1 582.3,617.5 581.8,616.9 581.3,616.3 580.8,615.6 580.3,615.0 579.8,614.3 579.3,613.6 578.8,613.0 578.3,612.3 577.8,611.6 577.3,610.9 576.8,610.2 576.3,609.6 575.8,608.9 575.3,608.2 574.8,607.6 574.3,606.9 573.8,606.3 573.3,605.7 572.8,605.1 572.3,604.5 571.8,603.9 571.3,603.3 570.8,602.8 570.3,602.2 569.8,601.7 569.3,601.2 568.8,600.8 568.3,600.3 567.8,599.9 567.3,599.4 566.8,599.0 566.3,598.6 565.8,598.2 565.3,597.8 564.8,597.5 564.3,597.1 563.8,596.7 563.3,596.4 562.8,596.0 562.3,595.7 561.8,595.3 561.3,595.0 560.8,594.6 560.3,594.3 559.8,594.0 559.3,593.6 558.8,593.3 558.3,592.9 557.8,592.6 557.3,592.2 556.8,591.9 556.3,591.5 555.8,591.1 555.3,590.7 554.8,590.3 554.3,589.9 553.8,589.5 553.3,589.1 552.8,588.6 552.3,588.2 551.8,587.7 551.3,587.3 550.8,586.8 550.3,586.4 549.8,585.9 549.3,585.4 548.8,585.0 548.3,584.5 547.8,584.1 547.3,583.7 546.8,583.2 546.3,582.8 545.8,582.4 545.3,582.0 544.8,581.6 544.3,581.3 543.8,580.9 543.3,580.6 542.8,580.3 542.3,580.0 541.8,579.7 541.3,579.5 540.8,579.2 540.3,579.0 539.8,578.9 539.3,578.7 538.8,578.6 538.3,578.6 537.8,578.5 537.3,578.5 536.8,578.5 536.3,578.6 535.8,578.7 535.3,578.9 534.8,579.1 534.3,579.3 533.8,579.5 533.3,579.8 532.8,580.1 532.3,580.5 531.8,580.8 531.3,581.2 530.8,581.6 530.3,582.1 529.8,582.5 529.3,583.0 528.8,583.5 528.3,584.1 527.8,584.6 527.3,585.2 526.8,585.8 526.3,586.3 525.8,586.9 525.3,587.5 524.8,588.2 524.3,588.8 523.8,589.4 523.3,590.1 522.8,590.7 522.3,591.3 521.8,592.0 521.3,592.6 520.8,593.3 520.3,593.9 519.8,594.5 519.3,595.2 518.8,595.8 518.3,596.4 517.8,597.0 517.3,597.6 516.8,598.2 516.3,598.7 515.8,599.3 515.3,599.8 514.8,600.3 514.3,600.8 513.8,601.3 513.3,601.7 512.8,602.1 512.3,602.5 511.8,602.9 511.3,603.2 510.8,603.5 510.3,603.7 509.8,603.9 509.3,604.1 508.8,604.3 508.3,604.4 507.8,604.4 507.3,604.5 506.8,604.5 506.3,604.4 505.8,604.3 505.3,604.2 504.8,604.1 504.3,603.9 503.8,603.8 503.3,603.6 502.8,603.3 502.3,603.1 501.8,602.9 501.3,602.6 500.8,602.4 500.3,602.2 499.8,601.9 499.3,601.7 498.8,601.4 498.3,601.2 497.8,601.0 497.3,600.8 496.8,600.7 496.3,600.5 495.8,600.4 495.3,600.3 494.8,600.2 494.3,600.2 493.8,600.2 493.3,600.2 492.8,600.3 492.3,600.4 491.8,600.5 491.3,600.7 490.8,600.9 490.3,601.2 489.8,601.5 489.3,601.8 488.8,602.2 488.3,602.5 487.8,602.9 487.3,603.4 486.8,603.8 486.3,604.3 485.8,604.8 485.3,605.3 484.8,605.8 484.3,606.3 483.8,606.9 483.3,607.5 482.8,608.0 482.3,608.6 481.8,609.2 481.3,609.8 480.8,610.4 480.3,611.0 479.8,611.6 479.3,612.2 478.8,612.8 478.3,613.4 477.8,614.0 477.3,614.5 476.8,615.1 476.3,615.7 475.8,616.2 475.3,616.8 474.8,617.3 474.3,617.8 473.8,618.3 473.3,618.7 472.8,619.2 472.3,619.6 471.8,620.0 471.3,620.4 470.8,620.7 470.3,621.1 469.8,621.4 469.3,621.6 468.8,621.9 468.3,622.1 467.8,622.3 467.3,622.4 466.8,622.5 466.3,622.6 465.8,622.7 465.3,622.7 464.8,622.6 464.3,622.5 463.8,622.4 463.3,622.3 462.8,622.1 462.3,621.8 461.8,621.6 461.3,621.3 460.8,621.0 460.3,620.6 459.8,620.2 459.3,619.8 458.8,619.4 458.3,619.0 457.8,618.5 457.3,618.0 456.8,617.5 456.3,617.0 455.8,616.5 455.3,616.0 454.8,615.5 454.3,614.9 453.8,614.4 453.3,613.8 452.8,613.2 452.3,612.6 451.8,612.0 451.3,611.4 450.8,610.8 450.3,610.2 449.8,609.5 449.3,608.8 448.8,608.2 448.3,607.5 447.8,606.7 447.3,606.0 446.8,605.3 446.3,604.5 445.8,603.7 445.3,602.9 444.8,602.1 444.3,601.3 443.8,600.4 443.3,599.6 442.8,598.7 442.3,597.8 441.8,597.0 441.3,596.1 440.8,595.2 440.3,594.3 439.8,593.4 439.3,592.4 438.8,591.5 438.3,590.6 437.8,589.7 437.3,588.8 436.8,587.8 436.3,586.9 435.8,586.0 435.3,585.1 434.8,584.2 434.3,583.3 433.8,582.4 433.3,581.5 432.8,580.6 432.3,579.8 431.8,578.9 431.3,578.1 430.8,577.3 430.3,576.6 429.8,575.8 429.3,575.1 428.8,574.4 428.3,573.7 427.8,573.0 427.3,572.4 426.8,571.8 426.3,571.2 425.8,570.6 425.3,570.1 424.8,569.5 424.3,569.0 423.8,568.5 423.3,568.0 422.8,567.5 422.3,567.0 421.8,566.5 421.3,566.0 420.8,565.5 420.3,565.1 419.8,564.6 419.3,564.1 418.8,563.6 418.3,563.1 417.8,562.7 417.3,562.2 416.8,561.7 416.3,561.2 415.8,560.7 415.3,560.3 414.8,559.8 414.3,559.3 413.8,558.9 413.3,558.4 412.8,558.0 412.3,557.5 411.8,557.1 411.3,556.7 410.8,556.3 410.3,555.9 409.8,555.6 409.3,555.2 408.8,554.8 408.3,554.5 407.8,554.2 407.3,553.9 406.8,553.6 406.3,553.3 405.8,553.0 405.3,552.7 404.8,552.4 404.3,552.2 403.8,551.9 403.3,551.7 402.8,551.4 402.3,551.1 401.8,550.9 401.3,550.6 400.8,550.4 400.3,550.1 399.8,549.9 399.3,549.6 398.8,549.3 398.3,549.1 397.8,548.8 397.3,548.5 396.8,548.2 396.3,547.9 395.8,547.7 395.3,547.4 394.8,547.1 394.3,546.8 393.8,546.5 393.3,546.2 392.8,545.9 392.3,545.6 391.8,545.3 391.3,545.1 390.8,544.8 390.3,544.5 389.8,544.2 389.3,543.9 388.8,543.6 388.3,543.3 387.8,543.1 387.3,542.8 386.8,542.5 386.3,542.2 385.8,542.0 385.3,541.7 384.8,541.4 384.3,541.2 383.8,540.9 383.3,540.7 382.8,540.5 382.3,540.2 381.8,540.0 381.3,539.8 380.8,539.6 380.3,539.4 379.8,539.1 379.3,538.9 378.8,538.7 378.3,538.5 377.8,538.3 377.3,538.1 376.8,537.9 376.3,537.7 375.8,537.5 375.3,537.3 374.8,537.1 374.3,536.9 373.8,536.6 373.3,536.4 372.8,536.1 372.3,535.9 371.8,535.6 371.3,535.3 370.8,535.0 370.3,534.7 369.8,534.4 369.3,534.1 368.8,533.7 368.3,533.4 367.8,533.0 367.3,532.6 366.8,532.2 366.3,531.8 365.8,531.3 365.3,530.8 364.8,530.3 364.3,529.8 363.8,529.2 363.3,528.7 362.8,528.1 362.3,527.5 361.8,526.8 361.3,526.2 360.8,525.6 360.3,524.9 359.8,524.2 359.3,523.5 358.8,522.8 358.3,522.5 357.8,522.2 357.3,521.8 356.8,521.5 356.3,521.2 355.8,520.9 355.3,520.5 354.8,520.2 354.3,519.8 353.8,519.5 353.3,519.1 352.8,518.8 352.3,518.5 351.8,518.1 351.3,517.8 350.8,517.5 350.3,517.1 349.8,516.8 349.3,516.5 348.8,516.2 348.3,516.0 347.8,515.7 347.3,515.5 346.8,515.2 346.3,515.0 345.8,514.9 345.3,514.7 344.8,514.6 344.3,514.5 343.8,514.4 343.3,514.4 342.8,514.4 342.3,514.4 341.8,514.5 341.3,514.5 340.8,514.6 340.3,514.8 339.8,514.9 339.3,515.1 338.8,515.3 338.3,515.5 337.8,515.7 337.3,515.9 336.8,516.1 336.3,516.3 335.8,516.6 335.3,516.8 334.8,517.1 334.3,517.3 333.8,517.5 333.3,517.8 332.8,518.0 332.3,518.2 331.8,518.4 331.3,518.6 330.8,518.8 330.3,519.0 329.8,519.2 329.3,519.3 328.8,519.4 328.3,519.6 327.8,519.7 327.3,519.8 326.8,519.9 326.3,519.9 325.8,520.0 325.3,520.0 324.8,520.0 324.3,520.0 323.8,519.9 323.3,519.9 322.8,519.8 322.3,519.7 321.8,519.6 321.3,519.5 320.8,519.3 320.3,519.1 319.8,518.9 319.3,518.7 318.8,518.4 318.3,518.2 317.8,517.9 317.3,517.6 316.8,517.3 316.3,516.9 315.8,516.6 315.3,516.2 314.8,515.9 314.3,515.5 313.8,515.1 313.3,514.7 312.8,514.2 312.3,513.8 311.8,513.3 311.3,512.9 310.8,512.4 310.3,512.0 309.8,511.5 309.3,511.0 308.8,510.5 308.3,510.0 307.8,509.5 307.3,509.0 306.8,508.5 306.3,508.0 305.8,507.4 305.3,506.9 304.8,506.4 304.3,505.9 303.8,505.3 303.3,504.8 302.8,504.3 302.3,503.8 301.8,503.2 301.3,502.7 300.8,502.2 300.3,501.6 299.8,501.1 299.3,500.6 298.8,500.0 298.3,499.5 297.8,499.0 297.3,498.5 296.8,497.9 296.3,497.4 295.8,496.9 295.3,496.4 294.8,495.9 294.3,495.4 293.8,494.9 293.3,494.4 292.8,493.9 292.3,493.4 291.8,493.0 291.3,492.5 290.8,492.1 290.3,491.6 289.8,491.2 289.3,490.8 288.8,490.3 288.3,489.9 287.8,489.6 287.3,489.2 286.8,488.8 286.3,488.5 285.8,488.2 285.3,487.8 284.8,487.6 284.3,487.3 283.8,487.0 283.3,486.8 282.8,486.6 282.3,486.4 281.8,486.2 281.3,486.0 280.8,485.9 280.3,485.8 279.8,485.7 279.3,485.6 278.8,485.6 278.3,485.5 277.8,485.5 277.3,485.4 276.8,485.4 276.3,485.4 275.8,485.4 275.3,485.3 274.8,485.3 274.3,485.3 273.8,485.3 273.3,485.2 272.8,485.2 272.3,485.1 271.8,485.1 271.3,485.0 270.8,484.9 270.3,484.7 269.8,484.6 269.3,484.4 268.8,484.2 268.3,484.0 267.8,483.8 267.3,483.5 266.8,483.3 266.3,483.0 265.8,482.7 265.3,482.3 264.8,482.0 264.3,481.6 263.8,481.3 263.3,480.9 262.8,480.5 262.3,480.1 261.8,479.7 261.3,479.3 260.8,478.9 260.3,478.5 259.8,478.1 259.3,477.7 258.8,477.3 258.3,476.9 257.8,476.6 257.3,476.2 256.8,475.8 256.3,475.5 255.8,475.1 255.3,474.8 254.8,474.5 254.3,474.2 253.8,473.9 253.3,473.6 252.8,473.4 252.3,473.1 251.8,472.9 251.3,472.7 250.8,472.4 250.3,472.2 249.8,472.0 249.3,471.9 248.8,471.7 248.3,471.5 247.8,471.3 247.3,471.2 246.8,471.0 246.3,470.8 245.8,470.7 245.3,470.5 244.8,470.3 244.3,470.2 243.8,470.0 243.3,469.8 242.8,469.7 242.3,469.5 241.8,469.3 241.3,469.2 240.8,469.0 240.3,468.9 239.8,468.7 239.3,468.6 238.8,468.4 238.3,468.3 237.8,468.2 237.3,468.1 236.8,468.0 236.3,467.9 235.8,467.8 235.3,467.7 234.8,467.7 234.3,467.6 233.8,467.6 233.3,467.6 232.8,467.6 232.3,467.6 231.8,467.6 231.3,467.7 230.8,467.7 230.3,467.8 229.8,467.9 229.3,467.9 228.8,468.0 228.3,468.1 227.8,468.2 227.3,468.2 226.8,468.3 226.3,468.4 225.8,468.5 225.3,468.5 224.8,468.6 224.3,468.7 223.8,468.7 223.3,468.8 222.8,468.8 222.3,468.8 221.8,468.8 221.3,468.8 220.8,468.8 220.3,468.8 219.8,468.7 219.3,468.6 218.8,468.5 218.3,468.4 217.8,468.3 217.3,468.1 216.8,467.9 216.3,467.7 215.8,467.4 215.3,467.2 214.8,466.9 214.3,466.5 213.8,466.2 213.3,465.8 212.8,465.4 212.3,465.0 211.8,464.5 211.3,464.1 210.8,463.6 210.3,463.1 209.8,462.6 209.3,462.0 208.8,461.4 208.3,460.9 207.8,460.3 207.3,459.7 206.8,459.0 206.3,458.4 205.8,457.8 205.3,457.1 204.8,456.4 204.3,455.7 203.8,455.1 203.3,454.4 202.8,453.7 202.3,452.9 201.8,452.2 201.3,451.5 200.8,450.8 200.3,450.1 199.8,449.3 199.3,448.6 198.8,447.9 198.3,447.2 197.8,446.4 197.3,445.7 196.8,445.0 196.3,444.3 195.8,443.6 195.3,442.9 194.8,442.2 194.3,441.5 193.8,440.8 193.3,440.1 192.8,439.5 192.3,438.8 191.8,438.2 191.3,437.6 190.8,437.0 190.3,436.4 189.8,435.8 189.3,435.2 188.8,434.6 188.3,434.1 187.8,433.5 187.3,433.0 186.8,432.5 186.3,432.0 185.8,431.5 185.3,431.1 184.8,430.6 184.3,431.1 183.8,432.0 183.3,432.8 182.8,433.6 182.3,434.3 181.8,435.0 181.3,435.6 180.8,436.2 180.3,436.8 179.8,437.3 179.3,437.7 178.8,438.2 178.3,438.6 177.8,439.1 177.3,439.5 176.8,439.9 176.3,440.3 175.8,440.7 175.3,441.1 174.8,441.5 174.3,441.9 173.8,442.3 173.3,442.6 172.8,443.0 172.3,443.3 171.8,443.6 171.3,443.9 170.8,444.2 170.3,444.5 169.8,444.8 169.3,445.1 168.8,445.3 168.3,445.5 167.8,445.8 167.3,446.0 166.8,446.2 166.3,446.3 165.8,446.5 165.3,446.7 164.8,446.8 164.3,447.0 163.8,447.1 163.3,447.2 162.8,447.3 162.3,447.5 161.8,447.6 161.3,447.7 160.8,447.8 160.3,447.9 159.8,448.0 159.3,448.1 158.8,448.2 158.3,448.3 157.8,448.5 157.3,448.6 156.8,448.7 156.3,448.8 155.8,449.0 155.3,449.1 154.8,449.3 154.3,449.4 153.8,449.6 153.3,449.8 152.8,450.0 152.3,450.2 151.8,450.4 151.3,450.6 150.8,450.9 150.3,451.1 149.8,451.4 149.3,451.6 148.8,451.9 148.3,452.1 147.8,452.4 147.3,452.6 146.8,452.9 146.3,453.1 145.8,453.3 145.3,453.6 144.8,453.8 144.3,454.0 143.8,454.2 143.3,454.4 142.8,454.6 142.3,454.7 141.8,454.9 141.3,455.0 140.8,455.1 140.3,455.2 139.8,455.3 139.3,455.4 138.8,455.4 138.3,455.4 137.8,455.4 137.3,455.3 136.8,455.3 136.3,455.2 135.8,455.1 135.3,455.0 134.8,454.8 134.3,454.7 133.8,454.5 133.3,454.3 132.8,454.1 132.3,453.9 131.8,453.7 131.3,453.5 130.8,453.3 130.3,453.1 129.8,452.8 129.3,452.6 128.8,452.4 128.3,452.1 127.8,451.9 127.3,451.7 126.8,451.5 126.3,451.2 125.8,451.0 125.3,450.8 124.8,450.6 124.3,450.5 123.8,450.3 123.3,450.1 122.8,450.0 122.3,449.8 121.8,449.7 121.3,449.5 120.8,449.4 120.3,449.2 119.8,449.1 119.3,449.0 118.8,448.9 118.3,448.7 117.8,448.6 117.3,448.5 116.8,448.4 116.3,448.3 115.8,448.2 115.3,448.1 114.8,448.0 114.3,447.9 113.8,447.8 113.3,447.7 112.8,447.6" fill="#7c7cbc" fill-opacity="0.46" stroke="none"/>
<polyline points="112.8,447.6 113.3,447.7 113.8,447.8 114.3,447.9 114.8,448.0 115.3,448.1 115.8,448.2 116.3,448.3 116.8,448.4 117.3,448.5 117.8,448.6 118.3,448.7 118.8,448.9 119.3,449.0 119.8,449.1 120.3,449.2 120.8,449.4 121.3,449.5 121.8,449.7 122.3,449.8 122.8,450.0 123.3,450.1 123.8,450.3 124.3,450.5 124.8,450.6 125.3,450.8 125.8,451.0 126.3,451.2 126.8,451.5 127.3,451.7 127.8,451.9 128.3,452.1 128.8,452.4 129.3,452.6 129.8,452.8 130.3,453.1 130.8,453.3 131.3,453.5 131.8,453.7 132.3,453.9 132.8,454.1 133.3,454.3 133.8,454.5 134.3,454.7 134.8,454.8 135.3,455.0 135.8,455.1 136.3,455.2 136.8,455.3 137.3,455.3 137.8,455.4 138.3,455.4 138.8,455.4 139.3,455.4 139.8,455.3 140.3,455.2 140.8,455.1 141.3,455.0 141.8,454.9 142.3,454.7 142.8,454.6 143.3,454.4 143.8,454.2 144.3,454.0 144.8,453.8 145.3,453.6 145.8,453.3 146.3,453.1 146.8,452.9 147.3,452.6 147.8,452.4 148.3,452.1 148.8,451.9 149.3,451.6 149.8,451.4 150.3,451.1 150.8,450.9 151.3,450.6 151.8,450.4 152.3,450.2 152.8,450.0 153.3,449.8 153.8,449.6 154.3,449.4 154.8,449.3 155.3,449.1 155.8,449.0 156.3,448.8 156.8,448.7 157.3,448.6 157.8,448.5 158.3,448.3 158.8,448.2 159.3,448.1 159.8,448.0 160.3,447.9 160.8,447.8 161.3,447.7 161.8,447.6 162.3,447.5 162.8,447.3 163.3,447.2 163.8,447.1 164.3,447.0 164.8,446.8 165.3,446.7 165.8,446.5 166.3,446.3 166.8,446.2 167.3,446.0 167.8,445.8 168.3,445.5 168.8,445.3 169.3,445.1 169.8,444.8 170.3,444.5 170.8,444.2 171.3,443.9 171.8,443.6 172.3,443.3 172.8,443.0 173.3,442.6 173.8,442.3 174.3,441.9 174.8,441.5 175.3,441.1 175.8,440.7 176.3,440.3 176.8,439.9 177.3,439.5 177.8,439.1 178.3,438.6 178.8,438.2 179.3,437.7 179.8,437.3 180.3,436.8 180.8,436.2 181.3,435.6 181.8,435.0 182.3,434.3 182.8,433.6 183.3,432.8 183.8,432.0 184.3,431.1 184.8,430.0 185.3,429.0 185.8,427.8 186.3,426.5 186.8,425.3 187.3,424.0 187.8,422.6 188.3,421.3 188.8,420.1 189.3,418.8 189.8,417.6 190.3,416.5 190.8,415.5 191.3,414.7 191.8,413.9 192.3,413.3 192.8,412.8 193.3,412.4 193.8,412.1 194.3,411.8 194.8,411.7 195.3,411.6 195.8,411.6 196.3,411.6 196.8,411.7 197.3,411.7 197.8,411.8 198.3,411.9 198.8,412.0 199.3,412.1 199.8,412.3 200.3,412.4 200.8,412.6 201.3,412.8 201.8,413.0 202.3,413.2 202.8,413.4 203.3,413.7 203.8,414.1 204.3,414.4 204.8,414.8 205.3,415.2 205.8,415.7 206.3,416.2 206.8,416.7 207.3,417.3 207.8,417.9 208.3,418.6 208.8,419.2 209.3,419.9 209.8,420.7 210.3,421.4 210.8,422.1 211.3,422.9 211.8,423.7 212.3,424.5 212.8,425.3 213.3,426.1 213.8,426.8 214.3,427.6 214.8,428.4 215.3,429.2 215.8,430.0 216.3,430.8 216.8,431.5 217.3,432.2 217.8,433.0 218.3,433.7 218.8,434.4 219.3,435.0 219.8,435.7 220.3,436.3 220.8,436.9 221.3,437.4 221.8,438.0 222.3,438.5 222.8,439.0 223.3,439.4 223.8,439.8 224.3,440.1 224.8,440.5 225.3,440.8 225.8,441.0 226.3,441.3 226.8,441.5 227.3,441.7 227.8,441.8 228.3,442.0 228.8,442.1 229.3,442.2 229.8,442.3 230.3,442.4 230.8,442.5 231.3,442.6 231.8,442.6 232.3,442.7 232.8,442.7 233.3,442.8 233.8,442.8 234.3,442.8 234.8,442.9 235.3,442.9 235.8,443.0 236.3,443.0 236.8,443.1 237.3,443.2 237.8,443.2 238.3,443.3 238.8,443.3 239.3,443.4 239.8,443.4 240.3,443.5 240.8,443.6 241.3,443.6 241.8,443.7 242.3,443.8 242.8,443.8 243.3,443.9 243.8,444.0 244.3,444.0 244.8,444.1 245.3,444.2 245.8,444.3 246.3,444.3 246.8,444.4 247.3,444.5 247.8,444.6 248.3,444.6 248.8,444.7 249.3,444.8 249.8,444.9 250.3,445.0 250.8,445.1 251.3,445.2 251.8,445.3 252.3,445.4 252.8,445.6 253.3,445.7 253.8,445.9 254.3,446.0 254.8,446.2 255.3,446.4 255.8,446.7 256.3,446.9 256.8,447.1 257.3,447.4 257.8,447.7 258.3,448.0 258.8,448.4 259.3,448.7 259.8,449.0 260.3,449.4 260.8,449.8 261.3,450.2 261.8,450.6 262.3,451.1 262.8,451.5 263.3,452.0 263.8,452.5 264.3,453.0 264.8,453.5 265.3,454.0 265.8,454.5 266.3,455.1 266.8,455.6 267.3,456.2 267.8,456.8 268.3,457.3 268.8,457.9 269.3,458.5 269.8,459.1 270.3,459.7 270.8,460.3 271.3,460.8 271.8,461.4 272.3,462.0 272.8,462.5 273.3,463.1 273.8,463.6 274.3,464.1 274.8,464.6 275.3,465.0 275.8,465.5 276.3,465.9 276.8,466.3 277.3,466.6 277.8,467.0 278.3,467.3 278.8,467.6 279.3,467.9 279.8,468.2 280.3,468.4 280.8,468.6 281.3,468.9 281.8,469.1 282.3,469.3 282.8,469.5 283.3,469.6 283.8,469.8 284.3,470.0 284.8,470.1 285.3,470.3 285.8,470.4 286.3,470.6 286.8,470.8 287.3,470.9 287.8,471.1 288.3,471.2 288.8,471.4 289.3,471.6 289.8,471.8 290.3,472.0 290.8,472.2 291.3,472.4 291.8,472.6 292.3,472.8 292.8,473.1 293.3,473.3 293.8,473.6 294.3,473.9 294.8,474.2 295.3,474.5 295.8,474.8 296.3,475.1 296.8,475.4 297.3,475.7 297.8,476.0 298.3,476.4 298.8,476.7 299.3,477.0 299.8,477.4 300.3,477.7 300.8,478.1 301.3,478.4 301.8,478.8 302.3,479.2 302.8,479.5 303.3,479.9 303.8,480.3 304.3,480.7 304.8,481.0 305.3,481.4 305.8,481.8 306.3,482.2 306.8,482.5 307.3,482.9 307.8,483.3 308.3,483.7 308.8,484.0 309.3,484.4 309.8,484.8 310.3,485.1 310.8,485.5 311.3,485.9 311.8,486.2 312.3,486.6 312.8,486.9 313.3,487.3 313.8,487.6 314.3,487.9 314.8,488.3 315.3,488.6 315.8,488.9 316.3,489.2 316.8,489.5 317.3,489.8 317.8,490.1 318.3,490.4 318.8,490.7 319.3,490.9 319.8,491.2 320.3,491.4 320.8,491.7 321.3,491.9 321.8,492.1 322.3,492.4 322.8,492.6 323.3,492.8 323.8,493.0 324.3,493.2 324.8,493.4 325.3,493.6 325.8,493.8 326.3,494.0 326.8,494.2 327.3,494.4 327.8,494.6 328.3,494.8 328.8,495.1 329.3,495.3 329.8,495.5 330.3,495.7 330.8,495.9 331.3,496.1 331.8,496.3 332.3,496.6 332.8,496.8 333.3,497.0 333.8,497.3 334.3,497.5 334.8,497.8 335.3,498.1 335.8,498.3 336.3,498.6 336.8,498.9 337.3,499.2 337.8,499.5 338.3,499.9 338.8,500.2 339.3,500.5 339.8,500.9 340.3,501.3 340.8,501.6 341.3,502.0 341.8,502.4 342.3,502.8 342.8,503.3 343.3,503.7 343.8,504.2 344.3,504.6 344.8,505.1 345.3,505.6 345.8,506.1 346.3,506.6 346.8,507.2 347.3,507.7 347.8,508.3 348.3,508.8 348.8,509.4 349.3,510.0 349.8,510.6 350.3,511.2 350.8,511.9 351.3,512.5 351.8,513.1 352.3,513.8 352.8,514.4 353.3,515.1 353.8,515.8 354.3,516.5 354.8,517.2 355.3,517.9 355.8,518.6 356.3,519.3 356.8,520.0 357.3,520.7 357.8,521.4 358.3,522.1 358.8,522.8 359.3,523.5 359.8,524.2 360.3,524.9 360.8,525.6 361.3,526.2 361.8,526.8 362.3,527.5 362.8,528.1 363.3,528.7 363.8,529.2 364.3,529.8 364.8,530.3 365.3,530.8 365.8,531.3 366.3,531.8 366.8,532.2 367.3,532.6 367.8,533.0 368.3,533.4 368.8,533.7 369.3,534.1 369.8,534.4 370.3,534.7 370.8,535.0 371.3,535.3 371.8,535.6 372.3,535.9 372.8,536.1 373.3,536.4 373.8,536.6 374.3,536.9 374.8,537.1 375.3,537.3 375.8,537.5 376.3,537.7 376.8,537.9 377.3,538.1 377.8,538.3 378.3,538.5 378.8,538.7 379.3,538.9 379.8,539.1 380.3,539.4 380.8,539.6 381.3,539.8 381.8,540.0 382.3,540.2 382.8,540.5 383.3,540.7 383.8,540.9 384.3,541.2 384.8,541.4 385.3,541.7 385.8,542.0 386.3,542.2 386.8,542.5 387.3,542.8 387.8,543.1 388.3,543.3 388.8,543.6 389.3,543.9 389.8,544.2 390.3,544.5 390.8,544.8 391.3,545.1 391.8,545.3 392.3,545.6 392.8,545.9 393.3,546.2 393.8,546.5 394.3,546.8 394.8,547.1 395.3,547.4 395.8,547.7 396.3,547.9 396.8,548.2 397.3,548.5 397.8,548.8 398.3,549.1 398.8,549.3 399.3,549.6 399.8,549.9 400.3,550.1 400.8,550.4 401.3,550.6 401.8,550.9 402.3,551.1 402.8,551.4 403.3,551.7 403.8,551.9 404.3,552.2 404.8,552.4 405.3,552.7 405.8,553.0 406.3,553.3 406.8,553.6 407.3,553.9 407.8,554.2 408.3,554.5 408.8,554.8 409.3,555.2 409.8,555.6 410.3,555.9 410.8,556.3 411.3,556.7 411.8,557.1 412.3,557.5 412.8,558.0 413.3,558.4 413.8,558.9 414.3,559.3 414.8,559.8 415.3,560.3 415.8,560.7 416.3,561.2 416.8,561.7 417.3,562.2 417.8,562.7 418.3,563.1 418.8,563.6 419.3,564.1 419.8,564.6 420.3,565.1 420.8,565.5 421.3,566.0 421.8,566.5 422.3,567.0 422.8,567.5 423.3,568.0 423.8,568.5 424.3,569.0 424.8,569.5 425.3,570.1 425.8,570.6 426.3,571.2 426.8,571.8 427.3,572.4 427.8,573.0 428.3,573.7 428.8,574.4 429.3,575.1 429.8,575.8 430.3,576.6 430.8,577.3 431.3,578.1 431.8,578.9 432.3,579.8 432.8,580.6 433.3,581.5 433.8,582.4 434.3,583.3 434.8,584.2 435.3,585.1 435.8,586.0 436.3,586.9 436.8,587.8 437.3,588.8 437.8,589.7 438.3,590.6 438.8,591.5 439.3,592.4 439.8,593.4 440.3,594.3 440.8,595.2 441.3,596.1 441.8,597.0 442.3,597.8 442.8,598.7 443.3,599.6 443.8,600.4 444.3,601.3 444.8,602.1 445.3,602.9 445.8,603.7 446.3,604.5 446.8,605.3 447.3,606.0 447.8,606.7 448.3,607.5 448.8,608.2 449.3,608.8 449.8,609.5 450.3,610.2 450.8,610.8 451.3,611.4 451.8,612.0 452.3,612.6 452.8,613.2 453.3,613.8 453.8,614.4 454.3,614.9 454.8,615.5 455.3,616.0 455.8,616.5 456.3,617.0 456.8,617.5 457.3,618.0 457.8,618.5 458.3,619.0 458.8,619.4 459.3,619.8 459.8,620.2 460.3,620.6 460.8,621.0 461.3,621.3 461.8,621.6 462.3,621.8 462.8,622.1 463.3,622.3 463.8,622.4 464.3,622.5 464.8,622.6 465.3,622.7 465.8,622.7 466.3,622.6 466.8,622.5 467.3,622.4 467.8,622.3 468.3,622.1 468.8,621.9 469.3,621.6 469.8,621.4 470.3,621.1 470.8,620.7 471.3,620.4 471.8,620.0 472.3,619.6 472.8,619.2 473.3,618.7 473.8,618.3 474.3,617.8 474.8,617.3 475.3,616.8 475.8,616.2 476.3,615.7 476.8,615.1 477.3,614.5 477.8,614.0 478.3,613.4 478.8,612.8 479.3,612.2 479.8,611.6 480.3,611.0 480.8,610.4 481.3,609.8 481.8,609.2 482.3,608.6 482.8,608.0 483.3,607.5 483.8,606.9 484.3,606.3 484.8,605.8 485.3,605.3 485.8,604.8 486.3,604.3 486.8,603.8 487.3,603.4 487.8,602.9 488.3,602.5 488.8,602.2 489.3,601.8 489.8,601.5 490.3,601.2 490.8,600.9 491.3,600.7 491.8,600.5 492.3,600.4 492.8,600.3 493.3,600.2 493.8,600.2 494.3,600.2 494.8,600.2 495.3,600.3 495.8,600.4 496.3,600.5 496.8,600.7 497.3,600.8 497.8,601.0 498.3,601.2 498.8,601.4 499.3,601.7 499.8,601.9 500.3,602.2 500.8,602.4 501.3,602.6 501.8,602.9 502.3,603.1 502.8,603.3 503.3,603.6 503.8,603.8 504.3,603.9 504.8,604.1 505.3,604.2 505.8,604.3 506.3,604.4 506.8,604.5 507.3,604.5 507.8,604.4 508.3,604.4 508.8,604.3 509.3,604.1 509.8,603.9 510.3,603.7 510.8,603.5 511.3,603.2 511.8,602.9 512.3,602.5 512.8,602.1 513.3,601.7 513.8,601.3 514.3,600.8 514.8,600.3 515.3,599.8 515.8,599.3 516.3,598.7 516.8,598.2 517.3,597.6 517.8,597.0 518.3,596.4 518.8,595.8 519.3,595.2 519.8,594.5 520.3,593.9 520.8,593.3 521.3,592.6 521.8,592.0 522.3,591.3 522.8,590.7 523.3,590.1 523.8,589.4 524.3,588.8 524.8,588.2 525.3,587.5 525.8,586.9 526.3,586.3 526.8,585.8 527.3,585.2 527.8,584.6 528.3,584.1 528.8,583.5 529.3,583.0 529.8,582.5 530.3,582.1 530.8,581.6 531.3,581.2 531.8,580.8 532.3,580.5 532.8,580.1 533.3,579.8 533.8,579.5 534.3,579.3 534.8,579.1 535.3,578.9 535.8,578.7 536.3,578.6 536.8,578.5 537.3,578.5 537.8,578.5 538.3,578.6 538.8,578.6 539.3,578.7 539.8,578.9 540.3,579.0 540.8,579.2 541.3,579.5 541.8,579.7 542.3,580.0 542.8,580.3 543.3,580.6 543.8,580.9 544.3,581.3 544.8,581.6 545.3,582.0 545.8,582.4 546.3,582.8 546.8,583.2 547.3,583.7 547.8,584.1 548.3,584.5 548.8,585.0 549.3,585.4 549.8,585.9 550.3,586.4 550.8,586.8 551.3,587.3 551.8,587.7 552.3,588.2 552.8,588.6 553.3,589.1 553.8,589.5 554.3,589.9 554.8,590.3 555.3,590.7 555.8,591.1 556.3,591.5 556.8,591.9 557.3,592.2 557.8,592.6 558.3,592.9 558.8,593.3 559.3,593.6 559.8,594.0 560.3,594.3 560.8,594.6 561.3,595.0 561.8,595.3 562.3,595.7 562.8,596.0 563.3,596.4 563.8,596.7 564.3,597.1 564.8,597.5 565.3,597.8 565.8,598.2 566.3,598.6 566.8,599.0 567.3,599.4 567.8,599.9 568.3,600.3 568.8,600.8 569.3,601.2 569.8,601.7 570.3,602.2 570.8,602.8 571.3,603.3 571.8,603.9 572.3,604.5 572.8,605.1 573.3,605.7 573.8,606.3 574.3,606.9 574.8,607.6 575.3,608.2 575.8,608.9 576.3,609.6 576.8,610.2 577.3,610.9 577.8,611.6 578.3,612.3 578.8,613.0 579.3,613.6 579.8,614.3 580.3,615.0 580.8,615.6 581.3,616.3 581.8,616.9 582.3,617.5 582.8,618.1 583.3,618.7 583.8,619.3 584.3,619.8 584.8,620.4 585.3,620.9 585.8,621.4 586.3,621.9 586.8,622.3 587.3,622.7 587.8,623.1 588.3,623.5 588.8,623.9 589.3,624.2 589.8,624.5 590.3,624.8 590.8,625.0 591.3,625.3 591.8,625.5 592.3,625.7 592.8,625.8 593.3,626.0 593.8,626.1 594.3,626.2 594.8,626.3 595.3,626.4 595.8,626.4 596.3,626.4 596.8,626.4 597.3,626.4 597.8,626.4 598.3,626.3 598.8,626.3 599.3,626.2 599.8,626.0 600.3,625.9 600.8,625.8 601.3,625.6 601.8,625.5 602.3,625.3 602.8,625.1 603.3,624.9 603.8,624.7 604.3,624.5 604.8,624.3 605.3,624.0 605.8,623.8 606.3,623.6 606.8,623.4 607.3,623.1 607.8,622.9 608.3,622.7 608.8,622.5 609.3,622.3 609.8,622.1 610.3,621.9 610.8,621.7 611.3,621.5 611.8,621.3 612.3,621.2 612.8,621.0 613.3,620.9 613.8,620.8 614.3,620.7 614.8,620.6 615.3,620.5 615.8,620.5 616.3,620.5 616.8,620.5 617.3,620.5 617.8,620.6 618.3,620.6 618.8,620.7 619.3,620.8 619.8,621.0 620.3,621.2 620.8,621.3 621.3,621.5 621.8,621.8 622.3,622.0 622.8,622.3 623.3,622.5 623.8,622.8 624.3,623.2 624.8,623.5 625.3,623.8 625.8,624.2 626.3,624.6 626.8,625.0 627.3,625.4 627.8,625.8 628.3,626.2 628.8,626.7 629.3,627.1 629.8,627.6 630.3,628.1 630.8,628.6 631.3,629.1 631.8,629.6 632.3,630.1 632.8,630.7 633.3,631.2 633.8,631.7 634.3,632.3 634.8,632.8 635.3,633.3 635.8,633.8 636.3,634.4 636.8,634.9 637.3,635.3 637.8,635.8 638.3,636.3 638.8,636.7 639.3,637.1 639.8,637.5 640.3,637.9 640.8,638.2 641.3,638.5 641.8,638.8 642.3,639.1 642.8,639.3 643.3,639.4 643.8,639.6 644.3,639.7 644.8,639.7 645.3,639.7 645.8,639.7 646.3,639.6 646.8,639.5 647.3,639.3 647.8,639.1 648.3,638.9 648.8,638.7 649.3,638.4 649.8,638.1 650.3,637.7 650.8,637.4 651.3,637.0 651.8,636.6 652.3,636.2 652.8,635.7 653.3,635.3 653.8,634.8 654.3,634.4 654.8,633.9 655.3,633.4 655.8,632.9 656.3,632.4 656.8,631.9 657.3,631.4 657.8,631.0 658.3,630.5 658.8,630.0 659.3,629.5 659.8,629.1 660.3,628.6 660.8,628.2 661.3,627.8 661.8,627.4 662.3,627.0 662.8,626.7 663.3,626.4 663.8,626.1 664.3,625.8 664.8,625.5 665.3,625.3 665.8,625.2 666.3,625.0 666.8,624.9 667.3,624.8 667.8,624.7 668.3,624.7 668.8,624.7 669.3,624.7 669.8,624.7 670.3,624.8 670.8,624.9 671.3,625.0 671.8,625.1 672.3,625.2 672.8,625.4 673.3,625.5 673.8,625.7 674.3,625.9 674.8,626.1 675.3,626.4 675.8,626.6 676.3,626.9 676.8,627.1 677.3,627.4 677.8,627.7 678.3,627.9 678.8,628.2 679.3,628.5 679.8,628.8 680.3,629.1 680.8,629.4 681.3,629.7 681.8,630.0 682.3,630.3 682.8,630.6 683.3,630.9 683.8,631.2 684.3,631.5 684.8,631.8 685.3,632.1 685.8,632.3 686.3,632.6 686.8,632.8 687.3,633.1 687.8,633.3 688.3,633.5 688.8,633.7 689.3,633.9 689.8,634.0 690.3,634.2 690.8,634.3 691.3,634.4 691.8,634.5 692.3,634.6 692.8,634.7 693.3,634.7 693.8,634.8 694.3,634.8 694.8,634.8 695.3,634.8 695.8,634.8 696.3,634.8 696.8,634.8 697.3,634.7 697.8,634.7 698.3,634.6 698.8,634.5 699.3,634.5 699.8,634.4 700.3,634.3 700.8,634.2 701.3,634.0 701.8,633.9 702.3,633.8 702.8,633.6 703.3,633.5 703.8,633.3 704.3,633.2 704.8,633.0 705.3,632.8 705.8,632.7 706.3,632.5 706.8,632.3 707.3,632.1 707.8,631.9 708.3,631.7 708.8,631.5 709.3,631.4 709.8,631.2 710.3,631.0 710.8,630.8 711.3,630.6 711.8,630.4 712.3,630.2 712.8,630.0 713.3,629.8 713.8,629.6 714.3,629.4 714.8,629.2 715.3,629.0 715.8,628.8 716.3,628.6 716.8,628.4 717.3,628.3 717.8,628.1 718.3,627.9 718.8,627.7 719.3,627.6 719.8,627.4 720.3,627.2 720.8,627.1 721.3,626.9 721.8,626.8 722.3,626.6 722.8,626.5 723.3,626.4 723.8,626.3 724.3,626.1 724.8,626.0 725.3,625.9 725.8,625.8 726.3,625.7 726.8,625.6 727.3,625.6 727.8,625.5 728.3,625.4 728.8,625.4 729.3,625.3 729.8,625.3 730.3,625.2 730.8,625.2 731.3,625.2 731.8,625.2 732.3,625.2 732.8,625.2 733.3,625.2 733.8,625.2 734.3,625.3 734.8,625.3 735.3,625.4 735.8,625.5 736.3,625.5 736.8,625.6 737.3,625.7 737.8,625.9 738.3,626.0 738.8,626.1 739.3,626.3 739.8,626.4 740.3,626.6 740.8,626.8 741.3,627.0 741.8,627.2 742.3,627.4 742.8,627.6 743.3,627.8 743.8,628.0 744.3,628.3 744.8,628.5 745.3,628.8 745.8,629.1 746.3,629.3 746.8,629.6 747.3,629.9 747.8,630.2 748.3,630.5 748.8,630.8 749.3,631.1 749.8,631.4 750.3,631.8 750.8,632.1 751.3,632.4 751.8,632.8 752.3,633.1 752.8,633.5 753.3,633.8 753.8,634.2 754.3,634.6 754.8,634.9 755.3,635.3 755.8,635.7 756.3,636.1 756.8,636.4 757.3,636.8 757.8,637.2 758.3,637.6 758.8,638.0 759.3,638.3 759.8,638.7 760.3,639.1 760.8,639.4 761.3,639.8 761.8,640.2 762.3,640.5 762.8,640.9 763.3,641.2 763.8,641.5 764.3,641.9 764.8,642.2 765.3,642.5 765.8,642.8 766.3,643.1 766.8,643.4 767.3,643.7 767.8,643.9 768.3,644.2 768.8,644.4 769.3,644.6 769.8,644.9 770.3,645.1 770.8,645.2 771.3,645.4 771.8,645.6 772.3,645.7 772.8,645.8 773.3,645.9 773.8,646.0 774.3,646.1 774.8,646.2 775.3,646.2 775.8,646.2 776.3,646.2 776.8,646.2 777.3,646.1 777.8,646.1 778.3,646.0 778.8,645.9 779.3,645.8 779.8,645.7 780.3,645.6 780.8,645.4 781.3,645.3 781.8,645.1 782.3,644.9 782.8,644.7 783.3,644.5 783.8,644.3 784.3,644.0 784.8,643.8 785.3,643.5 785.8,643.2 786.3,643.0 786.8,642.7 787.3,642.4 787.8,642.0 788.3,641.7 788.8,641.4 789.3,641.0 789.8,640.7 790.3,640.3 790.8,639.9 791.3,639.5 791.8,639.2 792.3,638.8 792.8,638.4 793.3,638.0 793.8,637.5 794.3,637.1 794.8,636.7 795.3,636.3 795.8,635.8 796.3,635.4 796.8,635.0 797.3,634.6 797.8,634.1 798.3,633.7 798.8,633.3 799.3,632.9 799.8,632.5 800.3,632.1 800.8,631.7 801.3,631.3 801.8,630.9 802.3,630.5 802.8,630.2 803.3,629.8 803.8,629.5 804.3,629.1 804.8,628.8 805.3,628.5 805.8,628.2 806.3,628.0 806.8,627.7 807.3,627.5 807.8,627.3 808.3,627.1 808.8,626.9 809.3,626.7 809.8,626.6 810.3,626.5 810.8,626.4 811.3,626.3 811.8,626.2 812.3,626.2 812.8,626.2 813.3,626.2 813.8,626.2 814.3,626.2 814.8,626.3 815.3,626.3 815.8,626.4 816.3,626.5 816.8,626.6 817.3,626.7 817.8,626.8 818.3,626.9 818.8,627.1 819.3,627.2 819.8,627.4 820.3,627.5 820.8,627.7 821.3,627.8 821.8,628.0 822.3,628.2 822.8,628.4 823.3,628.6 823.8,628.7 824.3,628.9 824.8,629.1 825.3,629.3 825.8,629.5 826.3,629.6 826.8,629.8 827.3,630.0 827.8,630.1 828.3,630.3 828.8,630.5 829.3,630.6 829.8,630.7 830.3,630.9 830.8,631.0 831.3,631.1 831.8,631.2 832.3,631.3 832.8,631.3 833.3,631.4 833.8,631.4 834.3,631.5 834.8,631.5 835.3,631.5 835.8,631.5 836.3,631.5 836.8,631.5 837.3,631.4 837.8,631.4 838.3,631.3 838.8,631.2 839.3,631.1 839.8,631.0 840.3,630.9 840.8,630.7 841.3,630.6 841.8,630.4 842.3,630.2 842.8,630.0 843.3,629.8 843.8,629.6 844.3,629.3 844.8,629.1 845.3,628.8 845.8,628.5 846.3,628.3 846.8,628.0 847.3,627.7 847.8,627.4 848.3,627.1 848.8,626.8 849.3,626.5 849.8,626.1 850.3,625.8 850.8,625.5 851.3,625.2 851.8,624.9 852.3,624.5 852.8,624.2 853.3,623.9 853.8,623.6 854.3,623.2 854.8,622.9 855.3,622.6 855.8,622.3 856.3,622.0 856.8,621.7 857.3,621.4 857.8,621.2 858.3,620.9 858.8,620.6 859.3,620.4 859.8,620.1 860.3,619.9 860.8,619.7 861.3,619.5 861.8,619.3 862.3,619.1 862.8,619.0 863.3,618.8 863.8,618.7 864.3,618.6 864.8,618.5 865.3,618.4 865.8,618.4 866.3,618.3 866.8,618.3 867.3,618.3 867.8,618.3 868.3,618.3 868.8,618.4 869.3,618.4 869.8,618.5 870.3,618.6 870.8,618.7 871.3,618.8 871.8,618.9 872.3,619.1 872.8,619.2 873.3,619.4 873.8,619.5 874.3,619.7 874.8,619.9 875.3,620.1 875.8,620.2 876.3,620.4 876.8,620.6 877.3,620.8 877.8,621.1 878.3,621.3 878.8,621.5 879.3,621.7 879.8,621.9 880.3,622.1 880.8,622.3 881.3,622.5 881.8,622.8 882.3,623.0 882.8,623.2 883.3,623.4 883.8,623.6 884.3,623.7 884.8,623.9 885.3,624.1 885.8,624.3 886.3,624.4 886.8,624.6 887.3,624.7 887.8,624.9 888.3,625.0 888.8,625.1 889.3,625.2 889.8,625.3 890.3,625.4 890.8,625.4 891.3,625.5 891.8,625.5 892.3,625.5 892.8,625.5 893.3,625.5 893.8,625.5 894.3,625.4 894.8,625.4 895.3,625.3 895.8,625.2 896.3,625.1 896.8,625.0 897.3,624.9 897.8,624.7 898.3,624.6 898.8,624.5 899.3,624.3 899.8,624.1 900.3,624.0 900.8,623.8 901.3,623.6 901.8,623.4 902.3,623.2 902.8,623.0 903.3,622.8 903.8,622.6 904.3,622.4 904.8,622.2 905.3,622.0 905.8,621.8 906.3,621.5 906.8,621.3 907.3,621.1 907.8,620.9 908.3,620.7 908.8,620.5 909.3,620.3 909.8,620.1 910.3,619.9 910.8,619.7 911.3,619.5 911.8,619.3 912.3,619.1 912.8,618.9 913.3,618.8 913.8,618.6 914.3,618.5 914.8,618.3 915.3,618.2 915.8,618.1 916.3,618.0 916.8,617.9 917.3,617.8 917.8,617.7 918.3,617.6 918.8,617.5 919.3,617.5 919.8,617.4 920.3,617.3 920.8,617.3 921.3,617.2 921.8,617.2 922.3,617.2 922.8,617.2 923.3,617.1 923.8,617.1 924.3,617.1 924.8,617.1 925.3,617.1 925.8,617.1 926.3,617.1 926.8,617.1 927.3,617.1 927.8,617.1 928.3,617.1 928.8,617.1 929.3,617.1 929.8,617.1 930.3,617.1 930.8,617.1 931.3,617.1 931.8,617.1 932.3,617.1 932.8,617.1 933.3,617.1 933.8,617.0 934.3,617.0 934.8,617.0 935.3,617.0 935.8,617.0 936.3,616.9 936.8,616.9 937.3,616.9 937.8,616.8 938.3,616.8 938.8,616.7 939.3,616.7 939.8,616.6 940.3,616.5 940.8,616.4 941.3,616.3 941.8,616.2 942.3,616.1 942.8,616.0 943.3,615.9 943.8,615.8 944.3,615.7 944.8,615.5 945.3,615.4 945.8,615.2 946.3,615.1 946.8,614.9 947.3,614.8 947.8,614.6 948.3,614.4 948.8,614.3 949.3,614.1 949.8,613.9 950.3,613.7 950.8,613.5 951.3,613.3 951.8,613.1 952.3,612.9 952.8,612.7 953.3,612.5 953.8,612.3 954.3,612.1 954.8,611.8 955.3,611.6 955.8,611.4 956.3,611.1 956.8,610.9 957.3,610.7 957.8,610.4 958.3,610.2 958.8,609.9 959.3,609.7 959.8,609.4 960.3,609.2 960.8,608.9 961.3,608.7 961.8,608.4 962.3,608.1 962.8,607.9 963.3,607.6 963.8,607.3 964.3,607.1 964.8,606.8 965.3,606.6 965.8,606.3 966.3,606.0 966.8,605.7 967.3,605.5 967.8,605.2 968.5,604.8" fill="none" stroke="#0000ff" stroke-width="8.4" stroke-linejoin="round"/><circle cx="112.8" cy="447.6" r="4.2" fill="#0000ff"/>
<polyline points="112.8,395.7 113.3,395.5 113.8,395.3 114.3,395.1 114.8,394.9 115.3,394.7 115.8,394.5 116.3,394.3 116.8,394.2 117.3,394.0 117.8,393.8 118.3,393.7 118.8,393.5 119.3,393.4 119.8,393.2 120.3,393.1 120.8,393.0 121.3,392.9 121.8,392.8 122.3,392.7 122.8,392.6 123.3,392.6 123.8,392.5 124.3,392.5 124.8,392.4 125.3,392.4 125.8,392.4 126.3,392.4 126.8,392.5 127.3,392.5 127.8,392.6 128.3,392.7 128.8,392.8 129.3,392.9 129.8,393.0 130.3,393.2 130.8,393.4 131.3,393.6 131.8,393.8 132.3,394.0 132.8,394.2 133.3,394.5 133.8,394.8 134.3,395.1 134.8,395.4 135.3,395.7 135.8,396.0 136.3,396.3 136.8,396.7 137.3,397.0 137.8,397.4 138.3,397.8 138.8,398.2 139.3,398.6 139.8,399.0 140.3,399.4 140.8,399.8 141.3,400.2 141.8,400.6 142.3,401.0 142.8,401.5 143.3,401.9 143.8,402.3 144.3,402.7 144.8,403.2 145.3,403.6 145.8,404.0 146.3,404.5 146.8,404.9 147.3,405.3 147.8,405.7 148.3,406.2 148.8,406.6 149.3,407.0 149.8,407.4 150.3,407.8 150.8,408.2 151.3,408.6 151.8,408.9 152.3,409.3 152.8,409.7 153.3,410.0 153.8,410.4 154.3,410.7 154.8,411.1 155.3,411.4 155.8,411.7 156.3,412.0 156.8,412.3 157.3,412.6 157.8,412.9 158.3,413.1 158.8,413.4 159.3,413.6 159.8,413.9 160.3,414.1 160.8,414.3 161.3,414.5 161.8,414.7 162.3,414.9 162.8,415.1 163.3,415.2 163.8,415.4 164.3,415.6 164.8,415.7 165.3,415.8 165.8,416.0 166.3,416.1 166.8,416.2 167.3,416.4 167.8,416.5 168.3,416.6 168.8,416.7 169.3,416.8 169.8,416.9 170.3,417.0 170.8,417.2 171.3,417.3 171.8,417.4 172.3,417.5 172.8,417.6 173.3,417.7 173.8,417.8 174.3,417.9 174.8,418.0 175.3,418.1 175.8,418.2 176.3,418.3 176.8,418.5 177.3,418.6 177.8,418.7 178.3,418.7 178.8,418.8 179.3,418.9 179.8,419.0 180.3,419.1 180.8,419.2 181.3,419.3 181.8,419.4 182.3,419.4 182.8,419.5 183.3,419.6 183.8,419.6 184.3,419.7 184.8,419.7 185.3,419.8 185.8,419.8 186.3,419.9 186.8,419.9 187.3,420.0 187.8,420.0 188.3,420.0 188.8,420.1 189.3,420.1 189.8,420.1 190.3,420.1 190.8,420.1 191.3,420.1 191.8,420.1 192.3,420.1 192.8,420.1 193.3,420.1 193.8,420.1 194.3,420.1 194.8,420.1 195.3,420.1 195.8,420.0 196.3,420.0 196.8,420.0 197.3,420.0 197.8,419.9 198.3,419.9 198.8,419.8 199.3,419.8 199.8,419.7 200.3,419.6 200.8,419.6 201.3,419.5 201.8,419.4 202.3,419.3 202.8,419.2 203.3,419.1 203.8,419.0 204.3,418.9 204.8,418.8 205.3,418.7 205.8,418.5 206.3,418.4 206.8,418.3 207.3,418.1 207.8,417.9 208.3,417.8 208.8,417.6 209.3,417.4 209.8,417.3 210.3,417.1 210.8,416.9 211.3,416.7 211.8,416.6 212.3,416.4 212.8,416.2 213.3,416.0 213.8,415.9 214.3,415.7 214.8,415.6 215.3,415.4 215.8,415.3 216.3,415.1 216.8,415.0 217.3,414.9 217.8,414.8 218.3,414.7 218.8,414.7 219.3,414.6 219.8,414.5 220.3,414.5 220.8,414.5 221.3,414.5 221.8,414.5 222.3,414.6 222.8,414.6 223.3,414.7 223.8,414.8 224.3,414.9 224.8,415.0 225.3,415.1 225.8,415.2 226.3,415.4 226.8,415.6 227.3,415.7 227.8,415.9 228.3,416.1 228.8,416.3 229.3,416.6 229.8,416.8 230.3,417.0 230.8,417.3 231.3,417.5 231.8,417.8 232.3,418.1 232.8,418.3 233.3,418.6 233.8,418.9 234.3,419.2 234.8,419.5 235.3,419.8 235.8,420.1 236.3,420.4 236.8,420.7 237.3,421.0 237.8,421.3 238.3,421.6 238.8,421.9 239.3,422.2 239.8,422.4 240.3,422.7 240.8,423.0 241.3,423.3 241.8,423.5 242.3,423.8 242.8,424.1 243.3,424.3 243.8,424.5 244.3,424.7 244.8,425.0 245.3,425.2 245.8,425.3 246.3,425.5 246.8,425.7 247.3,425.8 247.8,426.0 248.3,426.1 248.8,426.2 249.3,426.2 249.8,426.3 250.3,426.4 250.8,426.4 251.3,426.5 251.8,426.5 252.3,426.5 252.8,426.5 253.3,426.5 253.8,426.5 254.3,426.5 254.8,426.5 255.3,426.5 255.8,426.5 256.3,426.4 256.8,426.4 257.3,426.4 257.8,426.4 258.3,426.4 258.8,426.4 259.3,426.4 259.8,426.4 260.3,426.4 260.8,426.5 261.3,426.5 261.8,426.6 262.3,426.6 262.8,426.7 263.3,426.8 263.8,426.9 264.3,427.0 264.8,427.2 265.3,427.3 265.8,427.5 266.3,427.7 266.8,427.9 267.3,428.1 267.8,428.3 268.3,428.5 268.8,428.8 269.3,429.0 269.8,429.3 270.3,429.6 270.8,429.9 271.3,430.2 271.8,430.5 272.3,430.8 272.8,431.1 273.3,431.4 273.8,431.7 274.3,432.1 274.8,432.4 275.3,432.7 275.8,433.1 276.3,433.4 276.8,433.8 277.3,434.2 277.8,434.5 278.3,434.9 278.8,435.3 279.3,435.6 279.8,436.0 280.3,436.4 280.8,436.8 281.3,437.2 281.8,437.6 282.3,438.0 282.8,438.4 283.3,438.9 283.8,439.3 284.3,439.7 284.8,440.1 285.3,440.6 285.8,441.0 286.3,441.5 286.8,442.0 287.3,442.4 287.8,442.9 288.3,443.4 288.8,443.9 289.3,444.4 289.8,444.9 290.3,445.4 290.8,445.9 291.3,446.4 291.8,447.0 292.3,447.5 292.8,448.0 293.3,448.6 293.8,449.1 294.3,449.6 294.8,450.2 295.3,450.7 295.8,451.2 296.3,451.7 296.8,452.3 297.3,452.8 297.8,453.3 298.3,453.7 298.8,454.2 299.3,454.7 299.8,455.1 300.3,455.5 300.8,456.0 301.3,456.3 301.8,456.7 302.3,457.1 302.8,457.4 303.3,457.7 303.8,458.0 304.3,458.3 304.8,458.5 305.3,458.7 305.8,458.9 306.3,459.0 306.8,459.1 307.3,459.2 307.8,459.3 308.3,459.3 308.8,459.3 309.3,459.2 309.8,459.1 310.3,459.0 310.8,458.8 311.3,458.6 311.8,458.4 312.3,458.1 312.8,457.8 313.3,457.4 313.8,457.0 314.3,456.6 314.8,456.1 315.3,455.6 315.8,455.0 316.3,454.4 316.8,453.7 317.3,453.0 317.8,452.3 318.3,451.5 318.8,450.6 319.3,449.7 319.8,448.8 320.3,447.9 320.8,446.9 321.3,445.8 321.8,444.8 322.3,443.7 322.8,442.6 323.3,441.4 323.8,440.3 324.3,439.2 324.8,438.0 325.3,436.8 325.8,435.7 326.3,434.5 326.8,433.4 327.3,432.2 327.8,431.1 328.3,430.0 328.8,428.9 329.3,427.8 329.8,426.8 330.3,425.7 330.8,424.7 331.3,423.8 331.8,422.8 332.3,421.9 332.8,421.1 333.3,420.2 333.8,419.4 334.3,418.6 334.8,417.8 335.3,417.1 335.8,416.4 336.3,415.7 336.8,415.1 337.3,414.5 337.8,413.9 338.3,413.4 338.8,412.9 339.3,412.4 339.8,412.0 340.3,411.6 340.8,411.2 341.3,410.9 341.8,410.7 342.3,410.4 342.8,410.2 343.3,410.1 343.8,410.0 344.3,410.0 344.8,410.0 345.3,410.1 345.8,410.2 346.3,410.3 346.8,410.5 347.3,410.8 347.8,411.0 348.3,411.3 348.8,411.7 349.3,412.0 349.8,412.4 350.3,412.8 350.8,413.3 351.3,413.7 351.8,414.2 352.3,414.7 352.8,415.2 353.3,415.7 353.8,416.2 354.3,416.8 354.8,417.3 355.3,417.9 355.8,418.5 356.3,419.0 356.8,419.6 357.3,420.2 357.8,420.8 358.3,421.4 358.8,422.0 359.3,422.6 359.8,423.2 360.3,423.8 360.8,424.3 361.3,424.9 361.8,425.5 362.3,426.1 362.8,426.6 363.3,427.2 363.8,427.7 364.3,428.3 364.8,428.8 365.3,429.3 365.8,429.8 366.3,430.3 366.8,430.8 367.3,431.3 367.8,431.7 368.3,432.2 368.8,432.6 369.3,433.1 369.8,433.5 370.3,433.9 370.8,434.3 371.3,434.6 371.8,435.0 372.3,435.4 372.8,435.7 373.3,436.0 373.8,436.3 374.3,436.6 374.8,437.0 375.3,437.3 375.8,437.5 376.3,437.8 376.8,438.1 377.3,438.4 377.8,438.7 378.3,439.0 378.8,439.3 379.3,439.6 379.8,439.9 380.3,440.2 380.8,440.5 381.3,440.9 381.8,441.2 382.3,441.6 382.8,441.9 383.3,442.3 383.8,442.6 384.3,443.0 384.8,443.4 385.3,443.7 385.8,444.1 386.3,444.5 386.8,444.9 387.3,445.3 387.8,445.8 388.3,446.2 388.8,446.6 389.3,447.0 389.8,447.5 390.3,447.9 390.8,448.4 391.3,448.8 391.8,449.3 392.3,449.7 392.8,450.2 393.3,450.7 393.8,451.2 394.3,451.7 394.8,452.2 395.3,452.7 395.8,453.2 396.3,453.7 396.8,454.2 397.3,454.7 397.8,455.3 398.3,455.8 398.8,456.4 399.3,456.9 399.8,457.5 400.3,458.1 400.8,458.7 401.3,459.3 401.8,459.9 402.3,460.5 402.8,461.1 403.3,461.7 403.8,462.3 404.3,462.9 404.8,463.6 405.3,464.2 405.8,464.9 406.3,465.5 406.8,466.2 407.3,466.9 407.8,467.6 408.3,468.3 408.8,469.0 409.3,469.7 409.8,470.4 410.3,471.1 410.8,471.8 411.3,472.5 411.8,473.3 412.3,474.0 412.8,474.7 413.3,475.5 413.8,476.3 414.3,477.0 414.8,477.8 415.3,478.6 415.8,479.3 416.3,480.1 416.8,480.9 417.3,481.7 417.8,482.5 418.3,483.3 418.8,484.1 419.3,484.9 419.8,485.7 420.3,486.6 420.8,487.4 421.3,488.2 421.8,489.1 422.3,489.9 422.8,490.7 423.3,491.6 423.8,492.4 424.3,493.3 424.8,494.1 425.3,495.0 425.8,495.8 426.3,496.7 426.8,497.6 427.3,498.4 427.8,499.3 428.3,500.1 428.8,501.0 429.3,501.8 429.8,502.6 430.3,503.4 430.8,504.2 431.3,505.0 431.8,505.8 432.3,506.6 432.8,507.3 433.3,508.1 433.8,508.8 434.3,509.5 434.8,510.1 435.3,510.8 435.8,511.4 436.3,512.0 436.8,512.6 437.3,513.1 437.8,513.6 438.3,514.1 438.8,514.6 439.3,515.0 439.8,515.4 440.3,515.7 440.8,516.1 441.3,516.4 441.8,516.7 442.3,516.9 442.8,517.1 443.3,517.4 443.8,517.6 444.3,517.7 444.8,517.9 445.3,518.0 445.8,518.1 446.3,518.3 446.8,518.4 447.3,518.5 447.8,518.5 448.3,518.6 448.8,518.7 449.3,518.7 449.8,518.8 450.3,518.8 450.8,518.9 451.3,518.9 451.8,518.9 452.3,519.0 452.8,519.0 453.3,519.0 453.8,519.0 454.3,519.0 454.8,519.0 455.3,519.0 455.8,519.0 456.3,519.0 456.8,519.0 457.3,519.0 457.8,519.0 458.3,519.0 458.8,518.9 459.3,518.9 459.8,518.9 460.3,518.8 460.8,518.8 461.3,518.7 461.8,518.7 462.3,518.6 462.8,518.6 463.3,518.5 463.8,518.4 464.3,518.4 464.8,518.3 465.3,518.2 465.8,518.1 466.3,518.1 466.8,518.0 467.3,518.0 467.8,517.9 468.3,517.9 468.8,517.9 469.3,517.9 469.8,517.9 470.3,517.9 470.8,518.0 471.3,518.0 471.8,518.1 472.3,518.2 472.8,518.4 473.3,518.5 473.8,518.7 474.3,518.9 474.8,519.1 475.3,519.4 475.8,519.7 476.3,520.0 476.8,520.3 477.3,520.6 477.8,521.0 478.3,521.4 478.8,521.7 479.3,522.1 479.8,522.5 480.3,522.9 480.8,523.2 481.3,523.6 481.8,524.0 482.3,524.4 482.8,524.7 483.3,525.1 483.8,525.4 484.3,525.7 484.8,526.0 485.3,526.3 485.8,526.6 486.3,526.9 486.8,527.1 487.3,527.3 487.8,527.5 488.3,527.7 488.8,527.9 489.3,528.1 489.8,528.2 490.3,528.3 490.8,528.4 491.3,528.5 491.8,528.6 492.3,528.7 492.8,528.7 493.3,528.8 493.8,528.8 494.3,528.8 494.8,528.8 495.3,528.8 495.8,528.8 496.3,528.7 496.8,528.7 497.3,528.6 497.8,528.5 498.3,528.4 498.8,528.3 499.3,528.2 499.8,528.0 500.3,527.9 500.8,527.7 501.3,527.6 501.8,527.4 502.3,527.2 502.8,527.0 503.3,526.8 503.8,526.6 504.3,526.3 504.8,526.1 505.3,525.8 505.8,525.6 506.3,525.3 506.8,525.0 507.3,524.7 507.8,524.4 508.3,524.1 508.8,523.7 509.3,523.4 509.8,523.1 510.3,522.7 510.8,522.4 511.3,522.0 511.8,521.6 512.3,521.2 512.8,520.9 513.3,520.5 513.8,520.0 514.3,519.6 514.8,519.2 515.3,518.8 515.8,518.4 516.3,517.9 516.8,517.5 517.3,517.0 517.8,516.6 518.3,516.1 518.8,515.6 519.3,515.1 519.8,514.7 520.3,514.2 520.8,513.7 521.3,513.2 521.8,512.7 522.3,512.2 522.8,511.7 523.3,511.2 523.8,510.7 524.3,510.1 524.8,509.6 525.3,509.1 525.8,508.6 526.3,508.1 526.8,507.5 527.3,507.0 527.8,506.5 528.3,505.9 528.8,505.4 529.3,504.9 529.8,504.4 530.3,503.8 530.8,503.3 531.3,502.8 531.8,502.2 532.3,501.7 532.8,501.2 533.3,500.7 533.8,500.1 534.3,499.6 534.8,499.1 535.3,498.6 535.8,498.1 536.3,497.6 536.8,497.1 537.3,496.5 537.8,496.1 538.3,495.6 538.8,495.1 539.3,494.6 539.8,494.1 540.3,493.6 540.8,493.2 541.3,492.7 541.8,492.2 542.3,491.8 542.8,491.3 543.3,490.9 543.8,490.5 544.3,490.1 544.8,489.6 545.3,489.2 545.8,488.8 546.3,488.5 546.8,488.1 547.3,487.7 547.8,487.3 548.3,487.0 548.8,486.7 549.3,486.3 549.8,486.0 550.3,485.7 550.8,485.4 551.3,485.1 551.8,484.8 552.3,484.6 552.8,484.3 553.3,484.1 553.8,483.9 554.3,483.7 554.8,483.5 555.3,483.3 555.8,483.1 556.3,483.0 556.8,482.8 557.3,482.7 557.8,482.6 558.3,482.5 558.8,482.4 559.3,482.4 559.8,482.3 560.3,482.2 560.8,482.2 561.3,482.1 561.8,482.0 562.3,482.0 562.8,481.9 563.3,481.8 563.8,481.7 564.3,481.6 564.8,481.4 565.3,481.3 565.8,481.1 566.3,480.9 566.8,480.6 567.3,480.3 567.8,480.0 568.3,479.7 568.8,479.3 569.3,478.9 569.8,478.4 570.3,477.9 570.8,477.4 571.3,476.8 571.8,476.2 572.3,475.6 572.8,474.9 573.3,474.2 573.8,473.5 574.3,472.7 574.8,472.0 575.3,471.2 575.8,470.4 576.3,469.5 576.8,468.7 577.3,467.8 577.8,466.9 578.3,466.0 578.8,465.1 579.3,464.2 579.8,463.3 580.3,462.4 580.8,461.4 581.3,460.5 581.8,459.6 582.3,458.6 582.8,457.7 583.3,456.8 583.8,455.8 584.3,454.9 584.8,454.0 585.3,453.1 585.8,452.2 586.3,451.3 586.8,450.5 587.3,449.6 587.8,448.8 588.3,448.0 588.8,447.2 589.3,446.4 589.8,445.7 590.3,445.0 590.8,444.3 591.3,443.6 591.8,443.0 592.3,442.4 592.8,441.8 593.3,441.3 593.8,440.8 594.3,440.3 594.8,439.9 595.3,439.5 595.8,439.1 596.3,438.8 596.8,438.4 597.3,438.2 597.8,437.9 598.3,437.7 598.8,437.5 599.3,437.3 599.8,437.1 600.3,437.0 600.8,436.9 601.3,436.9 601.8,436.8 602.3,436.8 602.8,436.8 603.3,436.8 603.8,436.9 604.3,437.0 604.8,437.1 605.3,437.2 605.8,437.4 606.3,437.6 606.8,437.8 607.3,438.0 607.8,438.3 608.3,438.5 608.8,438.8 609.3,439.2 609.8,439.5 610.3,439.8 610.8,440.2 611.3,440.6 611.8,441.0 612.3,441.5 612.8,441.9 613.3,442.4 613.8,442.9 614.3,443.4 614.8,443.9 615.3,444.4 615.8,445.0 616.3,445.6 616.8,446.2 617.3,446.8 617.8,447.4 618.3,448.0 618.8,448.7 619.3,449.4 619.8,450.0 620.3,450.8 620.8,451.5 621.3,452.2 621.8,453.0 622.3,453.8 622.8,454.6 623.3,455.4 623.8,456.3 624.3,457.1 624.8,458.0 625.3,458.9 625.8,459.8 626.3,460.8 626.8,461.7 627.3,462.7 627.8,463.7 628.3,464.7 628.8,465.8 629.3,466.8 629.8,467.9 630.3,468.9 630.8,470.0 631.3,471.1 631.8,472.2 632.3,473.3 632.8,474.4 633.3,475.6 633.8,476.7 634.3,477.8 634.8,478.9 635.3,480.0 635.8,481.1 636.3,482.2 636.8,483.2 637.3,484.3 637.8,485.4 638.3,486.4 638.8,487.4 639.3,488.4 639.8,489.4 640.3,490.3 640.8,491.3 641.3,492.2 641.8,493.1 642.3,494.0 642.8,494.8 643.3,495.7 643.8,496.5 644.3,497.3 644.8,498.1 645.3,498.8 645.8,499.5 646.3,500.3 646.8,500.9 647.3,501.6 647.8,502.3 648.3,502.9 648.8,503.5 649.3,504.1 649.8,504.7 650.3,505.3 650.8,505.8 651.3,506.3 651.8,506.8 652.3,507.3 652.8,507.7 653.3,508.2 653.8,508.6 654.3,509.0 654.8,509.4 655.3,509.8 655.8,510.1 656.3,510.5 656.8,510.8 657.3,511.1 657.8,511.4 658.3,511.7 658.8,511.9 659.3,512.2 659.8,512.4 660.3,512.6 660.8,512.8 661.3,513.0 661.8,513.2 662.3,513.4 662.8,513.5 663.3,513.6 663.8,513.8 664.3,513.9 664.8,514.0 665.3,514.1 665.8,514.2 666.3,514.2 666.8,514.3 667.3,514.4 667.8,514.4 668.3,514.4 668.8,514.5 669.3,514.5 669.8,514.5 670.3,514.5 670.8,514.5 671.3,514.5 671.8,514.5 672.3,514.4 672.8,514.4 673.3,514.3 673.8,514.3 674.3,514.2 674.8,514.1 675.3,514.0 675.8,513.9 676.3,513.8 676.8,513.7 677.3,513.5 677.8,513.4 678.3,513.2 678.8,513.1 679.3,512.9 679.8,512.7 680.3,512.4 680.8,512.2 681.3,512.0 681.8,511.7 682.3,511.4 682.8,511.1 683.3,510.8 683.8,510.5 684.3,510.2 684.8,509.8 685.3,509.4 685.8,509.1 686.3,508.7 686.8,508.3 687.3,507.8 687.8,507.4 688.3,507.0 688.8,506.5 689.3,506.1 689.8,505.6 690.3,505.1 690.8,504.7 691.3,504.2 691.8,503.7 692.3,503.2 692.8,502.7 693.3,502.2 693.8,501.8 694.3,501.3 694.8,500.8 695.3,500.3 695.8,499.8 696.3,499.4 696.8,498.9 697.3,498.4 697.8,498.0 698.3,497.5 698.8,497.1 699.3,496.7 699.8,496.2 700.3,495.8 700.8,495.4 701.3,495.1 701.8,494.7 702.3,494.3 702.8,494.0 703.3,493.7 703.8,493.4 704.3,493.1 704.8,492.8 705.3,492.5 705.8,492.3 706.3,492.1 706.8,491.9 707.3,491.7 707.8,491.6 708.3,491.4 708.8,491.3 709.3,491.3 709.8,491.2 710.3,491.2 710.8,491.2 711.3,491.2 711.8,491.3 712.3,491.4 712.8,491.5 713.3,491.7 713.8,491.8 714.3,492.0 714.8,492.3 715.3,492.5 715.8,492.8 716.3,493.1 716.8,493.5 717.3,493.9 717.8,494.3 718.3,494.7 718.8,495.2 719.3,495.6 719.8,496.2 720.3,496.7 720.8,497.3 721.3,497.9 721.8,498.5 722.3,499.1 722.8,499.8 723.3,500.5 723.8,501.3 724.3,502.0 724.8,502.8 725.3,503.6 725.8,504.5 726.3,505.3 726.8,506.2 727.3,507.1 727.8,508.0 728.3,508.9 728.8,509.9 729.3,510.8 729.8,511.8 730.3,512.8 730.8,513.7 731.3,514.7 731.8,515.7 732.3,516.8 732.8,517.8 733.3,518.8 733.8,519.8 734.3,520.8 734.8,521.9 735.3,522.9 735.8,523.9 736.3,524.9 736.8,526.0 737.3,527.0 737.8,528.0 738.3,529.0 738.8,530.0 739.3,531.0 739.8,531.9 740.3,532.9 740.8,533.8 741.3,534.8 741.8,535.7 742.3,536.6 742.8,537.5 743.3,538.4 743.8,539.3 744.3,540.1 744.8,541.0 745.3,541.8 745.8,542.6 746.3,543.4 746.8,544.1 747.3,544.9 747.8,545.6 748.3,546.3 748.8,546.9 749.3,547.6 749.8,548.2 750.3,548.7 750.8,549.3 751.3,549.8 751.8,550.3 752.3,550.8 752.8,551.3 753.3,551.7 753.8,552.1 754.3,552.5 754.8,552.9 755.3,553.2 755.8,553.6 756.3,553.9 756.8,554.2 757.3,554.4 757.8,554.7 758.3,554.9 758.8,555.2 759.3,555.4 759.8,555.6 760.3,555.8 760.8,555.9 761.3,556.1 761.8,556.2 762.3,556.4 762.8,556.5 763.3,556.6 763.8,556.7 764.3,556.8 764.8,556.9 765.3,557.0 765.8,557.1 766.3,557.1 766.8,557.2 767.3,557.2 767.8,557.2 768.3,557.3 768.8,557.3 769.3,557.3 769.8,557.3 770.3,557.3 770.8,557.2 771.3,557.2 771.8,557.2 772.3,557.1 772.8,557.0 773.3,557.0 773.8,556.9 774.3,556.8 774.8,556.7 775.3,556.6 775.8,556.4 776.3,556.3 776.8,556.1 777.3,556.0 777.8,555.8 778.3,555.6 778.8,555.4 779.3,555.2 779.8,555.0 780.3,554.8 780.8,554.5 781.3,554.3 781.8,554.0 782.3,553.7 782.8,553.4 783.3,553.1 783.8,552.8 784.3,552.5 784.8,552.2 785.3,551.8 785.8,551.5 786.3,551.1 786.8,550.7 787.3,550.3 787.8,549.9 788.3,549.5 788.8,549.1 789.3,548.7 789.8,548.2 790.3,547.8 790.8,547.3 791.3,546.8 791.8,546.3 792.3,545.8 792.8,545.3 793.3,544.7 793.8,544.2 794.3,543.6 794.8,543.1 795.3,542.5 795.8,541.9 796.3,541.3 796.8,540.7 797.3,540.1 797.8,539.5 798.3,538.9 798.8,538.3 799.3,537.6 799.8,537.0 800.3,536.3 800.8,535.7 801.3,535.0 801.8,534.3 802.3,533.6 802.8,533.0 803.3,532.3 803.8,531.6 804.3,530.9 804.8,530.2 805.3,529.5 805.8,528.8 806.3,528.1 806.8,527.4 807.3,526.7 807.8,526.0 808.3,525.3 808.8,524.6 809.3,523.9 809.8,523.2 810.3,522.5 810.8,521.8 811.3,521.2 811.8,520.5 812.3,519.8 812.8,519.2 813.3,518.5 813.8,517.9 814.3,517.2 814.8,516.6 815.3,516.0 815.8,515.4 816.3,514.8 816.8,514.2 817.3,513.7 817.8,513.1 818.3,512.6 818.8,512.1 819.3,511.6 819.8,511.2 820.3,510.7 820.8,510.3 821.3,509.9 821.8,509.5 822.3,509.1 822.8,508.7 823.3,508.4 823.8,508.1 824.3,507.8 824.8,507.6 825.3,507.3 825.8,507.1 826.3,506.9 826.8,506.8 827.3,506.6 827.8,506.5 828.3,506.4 828.8,506.3 829.3,506.3 829.8,506.3 830.3,506.3 830.8,506.3 831.3,506.3 831.8,506.4 832.3,506.5 832.8,506.7 833.3,506.8 833.8,507.0 834.3,507.2 834.8,507.4 835.3,507.6 835.8,507.9 836.3,508.1 836.8,508.4 837.3,508.7 837.8,509.0 838.3,509.3 838.8,509.7 839.3,510.0 839.8,510.4 840.3,510.7 840.8,511.1 841.3,511.5 841.8,511.8 842.3,512.2 842.8,512.6 843.3,513.0 843.8,513.4 844.3,513.8 844.8,514.2 845.3,514.6 845.8,515.0 846.3,515.4 846.8,515.8 847.3,516.2 847.8,516.6 848.3,517.1 848.8,517.5 849.3,517.9 849.8,518.4 850.3,518.8 850.8,519.3 851.3,519.7 851.8,520.2 852.3,520.6 852.8,521.1 853.3,521.6 853.8,522.0 854.3,522.5 854.8,523.0 855.3,523.4 855.8,523.9 856.3,524.4 856.8,524.9 857.3,525.4 857.8,525.9 858.3,526.4 858.8,526.9 859.3,527.4 859.8,527.9 860.3,528.4 860.8,528.9 861.3,529.4 861.8,529.9 862.3,530.4 862.8,531.0 863.3,531.5 863.8,532.0 864.3,532.5 864.8,533.1 865.3,533.6 865.8,534.2 866.3,534.7 866.8,535.2 867.3,535.8 867.8,536.3 868.3,536.9 868.8,537.5 869.3,538.0 869.8,538.6 870.3,539.1 870.8,539.7 871.3,540.3 871.8,540.9 872.3,541.4 872.8,542.0 873.3,542.5 873.8,543.1 874.3,543.6 874.8,544.1 875.3,544.6 875.8,545.1 876.3,545.5 876.8,546.0 877.3,546.3 877.8,546.7 878.3,547.0 878.8,547.3 879.3,547.5 879.8,547.7 880.3,547.9 880.8,548.0 881.3,548.0 881.8,548.0 882.3,547.9 882.8,547.8 883.3,547.6 883.8,547.4 884.3,547.2 884.8,546.9 885.3,546.6 885.8,546.2 886.3,545.8 886.8,545.3 887.3,544.9 887.8,544.4 888.3,543.9 888.8,543.3 889.3,542.8 889.8,542.2 890.3,541.6 890.8,541.0 891.3,540.4 891.8,539.7 892.3,539.1 892.8,538.4 893.3,537.8 893.8,537.1 894.3,536.5 894.8,535.8 895.3,535.2 895.8,534.5 896.3,533.8 896.8,533.1 897.3,532.5 897.8,531.8 898.3,531.1 898.8,530.4 899.3,529.8 899.8,529.1 900.3,528.4 900.8,527.7 901.3,527.0 901.8,526.4 902.3,525.7 902.8,525.0 903.3,524.3 903.8,523.7 904.3,523.0 904.8,522.3 905.3,521.7 905.8,521.0 906.3,520.4 906.8,519.7 907.3,519.1 907.8,518.4 908.3,517.8 908.8,517.1 909.3,516.5 909.8,515.9 910.3,515.2 910.8,514.6 911.3,513.9 911.8,513.3 912.3,512.6 912.8,511.9 913.3,511.3 913.8,510.6 914.3,509.9 914.8,509.3 915.3,508.6 915.8,507.9 916.3,507.2 916.8,506.5 917.3,505.8 917.8,505.1 918.3,504.3 918.8,503.6 919.3,502.9 919.8,502.1 920.3,501.4 920.8,500.6 921.3,499.9 921.8,499.1 922.3,498.3 922.8,497.6 923.3,496.8 923.8,496.0 924.3,495.3 924.8,494.5 925.3,493.8 925.8,493.0 926.3,492.3 926.8,491.5 927.3,490.8 927.8,490.1 928.3,489.4 928.8,488.7 929.3,488.0 929.8,487.4 930.3,486.7 930.8,486.1 931.3,485.5 931.8,484.9 932.3,484.3 932.8,483.8 933.3,483.3 933.8,482.8 934.3,482.4 934.8,482.0 935.3,481.6 935.8,481.3 936.3,481.0 936.8,480.8 937.3,480.6 937.8,480.4 938.3,480.3 938.8,480.3 939.3,480.3 939.8,480.4 940.3,480.5 940.8,480.7 941.3,480.9 941.8,481.2 942.3,481.5 942.8,481.9 943.3,482.3 943.8,482.8 944.3,483.4 944.8,484.0 945.3,484.6 945.8,485.3 946.3,486.1 946.8,486.9 947.3,487.8 947.8,488.7 948.3,489.7 948.8,490.7 949.3,491.8 949.8,493.0 950.3,494.1 950.8,495.3 951.3,496.6 951.8,497.9 952.3,499.1 952.8,500.5 953.3,501.8 953.8,503.1 954.3,504.4 954.8,505.7 955.3,507.0 955.8,508.3 956.3,509.6 956.8,510.8 957.3,512.1 957.8,513.2 958.3,514.4 958.8,515.5 959.3,516.6 959.8,517.6 960.3,518.6 960.8,519.6 961.3,520.6 961.8,521.5 962.3,522.5 962.8,523.4 963.3,524.3 963.8,525.1 964.3,526.0 964.8,526.8 965.3,527.6 965.8,528.5 966.3,529.3 966.8,530.1 967.3,530.9 967.8,531.7 968.5,532.8" fill="none" stroke="#ff0000" stroke-width="8.4" stroke-linejoin="round"/><circle cx="112.8" cy="395.7" r="4.2" fill="#ff0000"/>
<polyline points="112.8,399.2 113.3,399.5 113.8,399.8 114.3,400.1 114.8,400.3 115.3,400.6 115.8,400.9 116.3,401.2 116.8,401.5 117.3,401.8 117.8,402.0 118.3,402.3 118.8,402.6 119.3,403.0 119.8,403.3 120.3,403.6 120.8,403.9 121.3,404.2 121.8,404.6 122.3,404.9 122.8,405.3 123.3,405.6 123.8,406.0 124.3,406.4 124.8,406.8 125.3,407.2 125.8,407.6 126.3,408.0 126.8,408.4 127.3,408.8 127.8,409.2 128.3,409.7 128.8,410.1 129.3,410.5 129.8,411.0 130.3,411.5 130.8,411.9 131.3,412.4 131.8,412.9 132.3,413.3 132.8,413.8 133.3,414.3 133.8,414.8 134.3,415.3 134.8,415.8 135.3,416.3 135.8,416.8 136.3,417.3 136.8,417.8 137.3,418.3 137.8,418.8 138.3,419.4 138.8,419.9 139.3,420.4 139.8,420.9 140.3,421.4 140.8,421.9 141.3,422.4 141.8,422.9 142.3,423.4 142.8,424.0 143.3,424.5 143.8,425.0 144.3,425.4 144.8,425.9 145.3,426.4 145.8,426.9 146.3,427.4 146.8,427.8 147.3,428.3 147.8,428.8 148.3,429.2 148.8,429.7 149.3,430.1 149.8,430.5 150.3,430.9 150.8,431.3 151.3,431.6 151.8,432.0 152.3,432.3 152.8,432.6 153.3,432.9 153.8,433.2 154.3,433.4 154.8,433.6 155.3,433.8 155.8,434.0 156.3,434.1 156.8,434.2 157.3,434.2 157.8,434.2 158.3,434.2 158.8,434.2 159.3,434.2 159.8,434.1 160.3,434.0 160.8,433.9 161.3,433.7 161.8,433.5 162.3,433.3 162.8,433.1 163.3,432.9 163.8,432.6 164.3,432.4 164.8,432.1 165.3,431.8 165.8,431.5 166.3,431.1 166.8,430.8 167.3,430.4 167.8,430.1 168.3,429.7 168.8,429.4 169.3,429.0 169.8,428.7 170.3,428.3 170.8,428.0 171.3,427.7 171.8,427.4 172.3,427.2 172.8,427.0 173.3,426.8 173.8,426.6 174.3,426.4 174.8,426.3 175.3,426.3 175.8,426.3 176.3,426.3 176.8,426.3 177.3,426.4 177.8,426.5 178.3,426.6 178.8,426.8 179.3,427.0 179.8,427.2 180.3,427.4 180.8,427.7 181.3,428.0 181.8,428.3 182.3,428.6 182.8,429.0 183.3,429.4 183.8,429.8 184.3,430.2 184.8,430.6 185.3,431.1 185.8,431.5 186.3,432.0 186.8,432.5 187.3,433.0 187.8,433.5 188.3,434.1 188.8,434.6 189.3,435.2 189.8,435.8 190.3,436.4 190.8,437.0 191.3,437.6 191.8,438.2 192.3,438.8 192.8,439.5 193.3,440.1 193.8,440.8 194.3,441.5 194.8,442.2 195.3,442.9 195.8,443.6 196.3,444.3 196.8,445.0 197.3,445.7 197.8,446.4 198.3,447.2 198.8,447.9 199.3,448.6 199.8,449.3 200.3,450.1 200.8,450.8 201.3,451.5 201.8,452.2 202.3,452.9 202.8,453.7 203.3,454.4 203.8,455.1 204.3,455.7 204.8,456.4 205.3,457.1 205.8,457.8 206.3,458.4 206.8,459.0 207.3,459.7 207.8,460.3 208.3,460.9 208.8,461.4 209.3,462.0 209.8,462.6 210.3,463.1 210.8,463.6 211.3,464.1 211.8,464.5 212.3,465.0 212.8,465.4 213.3,465.8 213.8,466.2 214.3,466.5 214.8,466.9 215.3,467.2 215.8,467.4 216.3,467.7 216.8,467.9 217.3,468.1 217.8,468.3 218.3,468.4 218.8,468.5 219.3,468.6 219.8,468.7 220.3,468.8 220.8,468.8 221.3,468.8 221.8,468.8 222.3,468.8 222.8,468.8 223.3,468.8 223.8,468.7 224.3,468.7 224.8,468.6 225.3,468.5 225.8,468.5 226.3,468.4 226.8,468.3 227.3,468.2 227.8,468.2 228.3,468.1 228.8,468.0 229.3,467.9 229.8,467.9 230.3,467.8 230.8,467.7 231.3,467.7 231.8,467.6 232.3,467.6 232.8,467.6 233.3,467.6 233.8,467.6 234.3,467.6 234.8,467.7 235.3,467.7 235.8,467.8 236.3,467.9 236.8,468.0 237.3,468.1 237.8,468.2 238.3,468.3 238.8,468.4 239.3,468.6 239.8,468.7 240.3,468.9 240.8,469.0 241.3,469.2 241.8,469.3 242.3,469.5 242.8,469.7 243.3,469.8 243.8,470.0 244.3,470.2 244.8,470.3 245.3,470.5 245.8,470.7 246.3,470.8 246.8,471.0 247.3,471.2 247.8,471.3 248.3,471.5 248.8,471.7 249.3,471.9 249.8,472.0 250.3,472.2 250.8,472.4 251.3,472.7 251.8,472.9 252.3,473.1 252.8,473.4 253.3,473.6 253.8,473.9 254.3,474.2 254.8,474.5 255.3,474.8 255.8,475.1 256.3,475.5 256.8,475.8 257.3,476.2 257.8,476.6 258.3,476.9 258.8,477.3 259.3,477.7 259.8,478.1 260.3,478.5 260.8,478.9 261.3,479.3 261.8,479.7 262.3,480.1 262.8,480.5 263.3,480.9 263.8,481.3 264.3,481.6 264.8,482.0 265.3,482.3 265.8,482.7 266.3,483.0 266.8,483.3 267.3,483.5 267.8,483.8 268.3,484.0 268.8,484.2 269.3,484.4 269.8,484.6 270.3,484.7 270.8,484.9 271.3,485.0 271.8,485.1 272.3,485.1 272.8,485.2 273.3,485.2 273.8,485.3 274.3,485.3 274.8,485.3 275.3,485.3 275.8,485.4 276.3,485.4 276.8,485.4 277.3,485.4 277.8,485.5 278.3,485.5 278.8,485.6 279.3,485.6 279.8,485.7 280.3,485.8 280.8,485.9 281.3,486.0 281.8,486.2 282.3,486.4 282.8,486.6 283.3,486.8 283.8,487.0 284.3,487.3 284.8,487.6 285.3,487.8 285.8,488.2 286.3,488.5 286.8,488.8 287.3,489.2 287.8,489.6 288.3,489.9 288.8,490.3 289.3,490.8 289.8,491.2 290.3,491.6 290.8,492.1 291.3,492.5 291.8,493.0 292.3,493.4 292.8,493.9 293.3,494.4 293.8,494.9 294.3,495.4 294.8,495.9 295.3,496.4 295.8,496.9 296.3,497.4 296.8,497.9 297.3,498.5 297.8,499.0 298.3,499.5 298.8,500.0 299.3,500.6 299.8,501.1 300.3,501.6 300.8,502.2 301.3,502.7 301.8,503.2 302.3,503.8 302.8,504.3 303.3,504.8 303.8,505.3 304.3,505.9 304.8,506.4 305.3,506.9 305.8,507.4 306.3,508.0 306.8,508.5 307.3,509.0 307.8,509.5 308.3,510.0 308.8,510.5 309.3,511.0 309.8,511.5 310.3,512.0 310.8,512.4 311.3,512.9 311.8,513.3 312.3,513.8 312.8,514.2 313.3,514.7 313.8,515.1 314.3,515.5 314.8,515.9 315.3,516.2 315.8,516.6 316.3,516.9 316.8,517.3 317.3,517.6 317.8,517.9 318.3,518.2 318.8,518.4 319.3,518.7 319.8,518.9 320.3,519.1 320.8,519.3 321.3,519.5 321.8,519.6 322.3,519.7 322.8,519.8 323.3,519.9 323.8,519.9 324.3,520.0 324.8,520.0 325.3,520.0 325.8,520.0 326.3,519.9 326.8,519.9 327.3,519.8 327.8,519.7 328.3,519.6 328.8,519.4 329.3,519.3 329.8,519.2 330.3,519.0 330.8,518.8 331.3,518.6 331.8,518.4 332.3,518.2 332.8,518.0 333.3,517.8 333.8,517.5 334.3,517.3 334.8,517.1 335.3,516.8 335.8,516.6 336.3,516.3 336.8,516.1 337.3,515.9 337.8,515.7 338.3,515.5 338.8,515.3 339.3,515.1 339.8,514.9 340.3,514.8 340.8,514.6 341.3,514.5 341.8,514.5 342.3,514.4 342.8,514.4 343.3,514.4 343.8,514.4 344.3,514.5 344.8,514.6 345.3,514.7 345.8,514.9 346.3,515.0 346.8,515.2 347.3,515.5 347.8,515.7 348.3,516.0 348.8,516.2 349.3,516.5 349.8,516.8 350.3,517.1 350.8,517.5 351.3,517.8 351.8,518.1 352.3,518.5 352.8,518.8 353.3,519.1 353.8,519.5 354.3,519.8 354.8,520.2 355.3,520.5 355.8,520.9 356.3,521.2 356.8,521.5 357.3,521.8 357.8,522.2 358.3,522.5 358.8,522.8 359.3,523.1 359.8,523.4 360.3,523.8 360.8,524.1 361.3,524.4 361.8,524.7 362.3,525.0 362.8,525.3 363.3,525.6 363.8,525.9 364.3,526.2 364.8,526.5 365.3,526.9 365.8,527.2 366.3,527.5 366.8,527.8 367.3,528.1 367.8,528.4 368.3,528.7 368.8,529.0 369.3,529.3 369.8,529.6 370.3,529.8 370.8,530.1 371.3,530.4 371.8,530.7 372.3,530.9 372.8,531.2 373.3,531.4 373.8,531.6 374.3,531.8 374.8,532.0 375.3,532.2 375.8,532.3 376.3,532.4 376.8,532.5 377.3,532.6 377.8,532.7 378.3,532.8 378.8,532.8 379.3,532.9 379.8,532.9 380.3,532.9 380.8,532.9 381.3,532.8 381.8,532.8 382.3,532.7 382.8,532.7 383.3,532.6 383.8,532.5 384.3,532.5 384.8,532.4 385.3,532.2 385.8,532.1 386.3,532.0 386.8,531.9 387.3,531.7 387.8,531.6 388.3,531.5 388.8,531.3 389.3,531.1 389.8,531.0 390.3,530.8 390.8,530.7 391.3,530.5 391.8,530.3 392.3,530.2 392.8,530.0 393.3,529.8 393.8,529.6 394.3,529.5 394.8,529.3 395.3,529.1 395.8,529.0 396.3,528.8 396.8,528.6 397.3,528.5 397.8,528.3 398.3,528.2 398.8,528.0 399.3,527.9 399.8,527.7 400.3,527.6 400.8,527.4 401.3,527.3 401.8,527.2 402.3,527.0 402.8,526.9 403.3,526.8 403.8,526.7 404.3,526.5 404.8,526.4 405.3,526.3 405.8,526.2 406.3,526.1 406.8,526.0 407.3,526.0 407.8,525.9 408.3,525.8 408.8,525.7 409.3,525.7 409.8,525.6 410.3,525.6 410.8,525.5 411.3,525.5 411.8,525.4 412.3,525.4 412.8,525.4 413.3,525.4 413.8,525.4 414.3,525.4 414.8,525.4 415.3,525.4 415.8,525.4 416.3,525.4 416.8,525.5 417.3,525.5 417.8,525.6 418.3,525.6 418.8,525.7 419.3,525.8 419.8,525.9 420.3,525.9 420.8,526.1 421.3,526.2 421.8,526.3 422.3,526.4 422.8,526.5 423.3,526.7 423.8,526.8 424.3,527.0 424.8,527.2 425.3,527.3 425.8,527.5 426.3,527.7 426.8,527.9 427.3,528.1 427.8,528.4 428.3,528.6 428.8,528.8 429.3,529.1 429.8,529.3 430.3,529.6 430.8,529.9 431.3,530.1 431.8,530.4 432.3,530.7 432.8,531.0 433.3,531.3 433.8,531.7 434.3,532.0 434.8,532.3 435.3,532.7 435.8,533.0 436.3,533.3 436.8,533.7 437.3,534.0 437.8,534.3 438.3,534.7 438.8,535.0 439.3,535.3 439.8,535.7 440.3,536.0 440.8,536.3 441.3,536.6 441.8,536.9 442.3,537.2 442.8,537.5 443.3,537.8 443.8,538.1 444.3,538.4 444.8,538.6 445.3,538.9 445.8,539.1 446.3,539.3 446.8,539.5 447.3,539.7 447.8,539.9 448.3,540.0 448.8,540.1 449.3,540.3 449.8,540.4 450.3,540.4 450.8,540.5 451.3,540.5 451.8,540.6 452.3,540.6 452.8,540.5 453.3,540.5 453.8,540.4 454.3,540.4 454.8,540.3 455.3,540.1 455.8,540.0 456.3,539.9 456.8,539.7 457.3,539.5 457.8,539.3 458.3,539.1 458.8,538.9 459.3,538.7 459.8,538.4 460.3,538.1 460.8,537.9 461.3,537.6 461.8,537.3 462.3,537.0 462.8,536.7 463.3,536.3 463.8,536.0 464.3,535.7 464.8,535.3 465.3,534.9 465.8,534.6 466.3,534.2 466.8,533.9 467.3,533.5 467.8,533.2 468.3,532.8 468.8,532.5 469.3,532.1 469.8,531.8 470.3,531.5 470.8,531.2 471.3,530.9 471.8,530.6 472.3,530.4 472.8,530.2 473.3,529.9 473.8,529.8 474.3,529.6 474.8,529.5 475.3,529.4 475.8,529.3 476.3,529.2 476.8,529.2 477.3,529.2 477.8,529.2 478.3,529.3 478.8,529.4 479.3,529.5 479.8,529.7 480.3,529.8 480.8,530.0 481.3,530.3 481.8,530.5 482.3,530.8 482.8,531.1 483.3,531.4 483.8,531.7 484.3,532.1 484.8,532.5 485.3,532.9 485.8,533.3 486.3,533.8 486.8,534.3 487.3,534.8 487.8,535.3 488.3,535.8 488.8,536.4 489.3,537.0 489.8,537.5 490.3,538.1 490.8,538.8 491.3,539.4 491.8,540.0 492.3,540.7 492.8,541.3 493.3,542.0 493.8,542.6 494.3,543.3 494.8,544.0 495.3,544.6 495.8,545.3 496.3,545.9 496.8,546.6 497.3,547.3 497.8,547.9 498.3,548.5 498.8,549.2 499.3,549.8 499.8,550.4 500.3,550.9 500.8,551.5 501.3,552.1 501.8,552.6 502.3,553.1 502.8,553.6 503.3,554.1 503.8,554.6 504.3,555.1 504.8,555.5 505.3,555.9 505.8,556.3 506.3,556.7 506.8,557.1 507.3,557.5 507.8,557.8 508.3,558.1 508.8,558.4 509.3,558.7 509.8,559.0 510.3,559.2 510.8,559.4 511.3,559.7 511.8,559.8 512.3,560.0 512.8,560.2 513.3,560.3 513.8,560.4 514.3,560.5 514.8,560.6 515.3,560.6 515.8,560.7 516.3,560.7 516.8,560.7 517.3,560.6 517.8,560.6 518.3,560.5 518.8,560.4 519.3,560.3 519.8,560.2 520.3,560.0 520.8,559.8 521.3,559.7 521.8,559.5 522.3,559.2 522.8,559.0 523.3,558.7 523.8,558.5 524.3,558.2 524.8,557.9 525.3,557.6 525.8,557.3 526.3,557.0 526.8,556.6 527.3,556.3 527.8,555.9 528.3,555.6 528.8,555.2 529.3,554.9 529.8,554.5 530.3,554.1 530.8,553.8 531.3,553.4 531.8,553.0 532.3,552.6 532.8,552.3 533.3,551.9 533.8,551.5 534.3,551.1 534.8,550.8 535.3,550.4 535.8,550.1 536.3,549.7 536.8,549.4 537.3,549.0 537.8,548.7 538.3,548.4 538.8,548.1 539.3,547.8 539.8,547.5 540.3,547.3 540.8,547.0 541.3,546.8 541.8,546.5 542.3,546.3 542.8,546.1 543.3,546.0 543.8,545.8 544.3,545.7 544.8,545.5 545.3,545.4 545.8,545.4 546.3,545.3 546.8,545.3 547.3,545.3 547.8,545.3 548.3,545.3 548.8,545.3 549.3,545.4 549.8,545.4 550.3,545.5 550.8,545.6 551.3,545.7 551.8,545.8 552.3,545.9 552.8,546.1 553.3,546.2 553.8,546.4 554.3,546.6 554.8,546.8 555.3,547.0 555.8,547.2 556.3,547.4 556.8,547.6 557.3,547.8 557.8,548.0 558.3,548.2 558.8,548.5 559.3,548.7 559.8,548.9 560.3,549.2 560.8,549.4 561.3,549.6 561.8,549.9 562.3,550.1 562.8,550.3 563.3,550.6 563.8,550.8 564.3,551.0 564.8,551.2 565.3,551.4 565.8,551.6 566.3,551.8 566.8,552.0 567.3,552.2 567.8,552.4 568.3,552.6 568.8,552.7 569.3,552.9 569.8,553.0 570.3,553.1 570.8,553.3 571.3,553.4 571.8,553.5 572.3,553.5 572.8,553.6 573.3,553.6 573.8,553.7 574.3,553.7 574.8,553.7 575.3,553.7 575.8,553.7 576.3,553.7 576.8,553.7 577.3,553.7 577.8,553.6 578.3,553.6 578.8,553.6 579.3,553.5 579.8,553.5 580.3,553.4 580.8,553.4 581.3,553.4 581.8,553.3 582.3,553.3 582.8,553.2 583.3,553.2 583.8,553.1 584.3,553.1 584.8,553.1 585.3,553.0 585.8,553.0 586.3,553.0 586.8,553.0 587.3,553.0 587.8,553.0 588.3,553.0 588.8,553.1 589.3,553.1 589.8,553.2 590.3,553.2 590.8,553.3 591.3,553.4 591.8,553.5 592.3,553.6 592.8,553.8 593.3,553.9 593.8,554.1 594.3,554.3 594.8,554.5 595.3,554.7 595.8,554.9 596.3,555.1 596.8,555.4 597.3,555.6 597.8,555.9 598.3,556.2 598.8,556.5 599.3,556.8 599.8,557.2 600.3,557.5 600.8,557.9 601.3,558.3 601.8,558.6 602.3,559.0 602.8,559.5 603.3,559.9 603.8,560.3 604.3,560.8 604.8,561.2 605.3,561.7 605.8,562.2 606.3,562.7 606.8,563.2 607.3,563.7 607.8,564.2 608.3,564.7 608.8,565.2 609.3,565.7 609.8,566.2 610.3,566.7 610.8,567.2 611.3,567.7 611.8,568.2 612.3,568.7 612.8,569.2 613.3,569.7 613.8,570.2 614.3,570.6 614.8,571.1 615.3,571.5 615.8,571.9 616.3,572.4 616.8,572.8 617.3,573.2 617.8,573.6 618.3,574.0 618.8,574.4 619.3,574.7 619.8,575.1 620.3,575.5 620.8,575.8 621.3,576.2 621.8,576.5 622.3,576.8 622.8,577.1 623.3,577.4 623.8,577.8 624.3,578.0 624.8,578.3 625.3,578.6 625.8,578.9 626.3,579.2 626.8,579.4 627.3,579.7 627.8,579.9 628.3,580.2 628.8,580.4 629.3,580.6 629.8,580.9 630.3,581.1 630.8,581.3 631.3,581.5 631.8,581.7 632.3,581.9 632.8,582.1 633.3,582.3 633.8,582.5 634.3,582.7 634.8,582.9 635.3,583.1 635.8,583.3 636.3,583.5 636.8,583.7 637.3,583.9 637.8,584.1 638.3,584.3 638.8,584.5 639.3,584.7 639.8,584.9 640.3,585.1 640.8,585.3 641.3,585.5 641.8,585.7 642.3,585.9 642.8,586.1 643.3,586.4 643.8,586.6 644.3,586.8 644.8,587.0 645.3,587.3 645.8,587.5 646.3,587.7 646.8,588.0 647.3,588.2 647.8,588.4 648.3,588.6 648.8,588.9 649.3,589.1 649.8,589.3 650.3,589.5 650.8,589.7 651.3,589.9 651.8,590.1 652.3,590.3 652.8,590.5 653.3,590.7 653.8,590.8 654.3,591.0 654.8,591.1 655.3,591.3 655.8,591.4 656.3,591.5 656.8,591.6 657.3,591.7 657.8,591.8 658.3,591.8 658.8,591.9 659.3,591.9 659.8,591.9 660.3,591.9 660.8,591.9 661.3,591.9 661.8,591.8 662.3,591.7 662.8,591.7 663.3,591.6 663.8,591.5 664.3,591.4 664.8,591.3 665.3,591.2 665.8,591.0 666.3,590.9 666.8,590.8 667.3,590.6 667.8,590.5 668.3,590.3 668.8,590.2 669.3,590.0 669.8,589.8 670.3,589.7 670.8,589.5 671.3,589.4 671.8,589.2 672.3,589.0 672.8,588.9 673.3,588.7 673.8,588.6 674.3,588.4 674.8,588.3 675.3,588.2 675.8,588.1 676.3,587.9 676.8,587.8 677.3,587.7 677.8,587.7 678.3,587.6 678.8,587.5 679.3,587.5 679.8,587.4 680.3,587.4 680.8,587.4 681.3,587.4 681.8,587.4 682.3,587.5 682.8,587.5 683.3,587.6 683.8,587.6 684.3,587.7 684.8,587.8 685.3,587.9 685.8,588.0 686.3,588.1 686.8,588.2 687.3,588.3 687.8,588.5 688.3,588.6 688.8,588.8 689.3,589.0 689.8,589.2 690.3,589.4 690.8,589.6 691.3,589.8 691.8,590.0 692.3,590.2 692.8,590.4 693.3,590.7 693.8,590.9 694.3,591.2 694.8,591.4 695.3,591.7 695.8,591.9 696.3,592.2 696.8,592.5 697.3,592.8 697.8,593.1 698.3,593.4 698.8,593.7 699.3,594.0 699.8,594.3 700.3,594.6 700.8,594.9 701.3,595.2 701.8,595.6 702.3,595.9 702.8,596.2 703.3,596.6 703.8,597.0 704.3,597.3 704.8,597.7 705.3,598.1 705.8,598.5 706.3,599.0 706.8,599.4 707.3,599.9 707.8,600.3 708.3,600.8 708.8,601.3 709.3,601.9 709.8,602.4 710.3,603.0 710.8,603.6 711.3,604.2 711.8,604.9 712.3,605.5 712.8,606.2 713.3,607.0 713.8,607.7 714.3,608.5 714.8,609.3 715.3,610.1 715.8,610.9 716.3,611.8 716.8,612.6 717.3,613.5 717.8,614.4 718.3,615.2 718.8,616.1 719.3,617.0 719.8,617.8 720.3,618.7 720.8,619.5 721.3,620.4 721.8,621.2 722.3,622.0 722.8,622.8 723.3,623.6 723.8,624.3 724.3,625.0 724.8,625.7 725.3,626.4 725.8,627.1 726.3,627.7 726.8,628.4 727.3,629.0 727.8,629.6 728.3,630.2 728.8,630.7 729.3,631.3 729.8,631.8 730.3,632.4 730.8,632.9 731.3,633.4 731.8,633.9 732.3,634.4 732.8,634.9 733.3,635.4 733.8,635.9 734.3,636.4 734.8,636.9 735.3,637.4 735.8,637.8 736.3,638.3 736.8,638.8 737.3,639.3 737.8,639.7 738.3,640.2 738.8,640.7 739.3,641.2 739.8,641.7 740.3,642.2 740.8,642.7 741.3,643.2 741.8,643.7 742.3,644.2 742.8,644.7 743.3,645.2 743.8,645.7 744.3,646.2 744.8,646.7 745.3,647.3 745.8,647.8 746.3,648.3 746.8,648.8 747.3,649.3 747.8,649.8 748.3,650.3 748.8,650.8 749.3,651.3 749.8,651.8 750.3,652.3 750.8,652.8 751.3,653.2 751.8,653.7 752.3,654.2 752.8,654.6 753.3,655.1 753.8,655.5 754.3,656.0 754.8,656.4 755.3,656.8 755.8,657.2 756.3,657.6 756.8,658.0 757.3,658.4 757.8,658.7 758.3,659.1 758.8,659.4 759.3,659.7 759.8,660.0 760.3,660.3 760.8,660.6 761.3,660.8 761.8,661.0 762.3,661.2 762.8,661.4 763.3,661.6 763.8,661.7 764.3,661.8 764.8,661.9 765.3,662.0 765.8,662.0 766.3,662.0 766.8,662.0 767.3,662.0 767.8,661.9 768.3,661.8 768.8,661.7 769.3,661.5 769.8,661.4 770.3,661.1 770.8,660.9 771.3,660.6 771.8,660.4 772.3,660.0 772.8,659.7 773.3,659.3 773.8,658.9 774.3,658.5 774.8,658.1 775.3,657.6 775.8,657.1 776.3,656.6 776.8,656.1 777.3,655.5 777.8,654.9 778.3,654.3 778.8,653.7 779.3,653.0 779.8,652.3 780.3,651.6 780.8,650.9 781.3,650.2 781.8,649.5 782.3,648.7 782.8,648.0 783.3,647.2 783.8,646.4 784.3,645.6 784.8,644.9 785.3,644.1 785.8,643.3 786.3,642.5 786.8,641.7 787.3,640.9 787.8,640.1 788.3,639.3 788.8,638.5 789.3,637.7 789.8,637.0 790.3,636.2 790.8,635.5 791.3,634.7 791.8,634.0 792.3,633.3 792.8,632.6 793.3,631.9 793.8,631.2 794.3,630.6 794.8,629.9 795.3,629.3 795.8,628.7 796.3,628.1 796.8,627.5 797.3,626.9 797.8,626.3 798.3,625.7 798.8,625.1 799.3,624.6 799.8,624.0 800.3,623.5 800.8,622.9 801.3,622.4 801.8,621.8 802.3,621.3 802.8,620.8 803.3,620.2 803.8,619.7 804.3,619.2 804.8,618.7 805.3,618.1 805.8,617.6 806.3,617.1 806.8,616.5 807.3,616.0 807.8,615.4 808.3,614.9 808.8,614.3 809.3,613.8 809.8,613.2 810.3,612.6 810.8,612.0 811.3,611.4 811.8,610.8 812.3,610.2 812.8,609.6 813.3,609.0 813.8,608.4 814.3,607.8 814.8,607.2 815.3,606.6 815.8,606.0 816.3,605.4 816.8,604.7 817.3,604.1 817.8,603.5 818.3,602.9 818.8,602.3 819.3,601.7 819.8,601.1 820.3,600.5 820.8,599.9 821.3,599.3 821.8,598.7 822.3,598.2 822.8,597.6 823.3,597.0 823.8,596.5 824.3,596.0 824.8,595.4 825.3,594.9 825.8,594.4 826.3,593.9 826.8,593.5 827.3,593.0 827.8,592.6 828.3,592.2 828.8,591.8 829.3,591.4 829.8,591.1 830.3,590.8 830.8,590.5 831.3,590.3 831.8,590.0 832.3,589.9 832.8,589.7 833.3,589.6 833.8,589.5 834.3,589.5 834.8,589.5 835.3,589.6 835.8,589.7 836.3,589.8 836.8,590.0 837.3,590.2 837.8,590.4 838.3,590.7 838.8,591.1 839.3,591.4 839.8,591.8 840.3,592.3 840.8,592.7 841.3,593.2 841.8,593.8 842.3,594.3 842.8,594.9 843.3,595.6 843.8,596.3 844.3,597.0 844.8,597.7 845.3,598.4 845.8,599.2 846.3,600.1 846.8,600.9 847.3,601.8 847.8,602.7 848.3,603.6 848.8,604.6 849.3,605.5 849.8,606.5 850.3,607.5 850.8,608.5 851.3,609.6 851.8,610.6 852.3,611.7 852.8,612.7 853.3,613.8 853.8,614.8 854.3,615.8 854.8,616.9 855.3,617.9 855.8,618.9 856.3,619.9 856.8,620.9 857.3,621.8 857.8,622.8 858.3,623.7 858.8,624.6 859.3,625.4 859.8,626.3 860.3,627.1 860.8,627.8 861.3,628.5 861.8,629.2 862.3,629.9 862.8,630.4 863.3,631.0 863.8,631.5 864.3,631.9 864.8,632.3 865.3,632.7 865.8,633.0 866.3,633.2 866.8,633.4 867.3,633.5 867.8,633.5 868.3,633.5 868.8,633.4 869.3,633.2 869.8,633.0 870.3,632.7 870.8,632.4 871.3,632.1 871.8,631.6 872.3,631.2 872.8,630.7 873.3,630.2 873.8,629.6 874.3,629.0 874.8,628.4 875.3,627.7 875.8,627.1 876.3,626.4 876.8,625.7 877.3,625.0 877.8,624.3 878.3,623.6 878.8,622.9 879.3,622.2 879.8,621.5 880.3,620.8 880.8,620.1 881.3,619.4 881.8,618.8 882.3,618.1 882.8,617.5 883.3,616.9 883.8,616.2 884.3,615.6 884.8,615.0 885.3,614.4 885.8,613.8 886.3,613.3 886.8,612.7 887.3,612.1 887.8,611.6 888.3,611.1 888.8,610.5 889.3,610.0 889.8,609.5 890.3,609.0 890.8,608.6 891.3,608.1 891.8,607.6 892.3,607.2 892.8,606.7 893.3,606.3 893.8,605.9 894.3,605.5 894.8,605.1 895.3,604.8 895.8,604.4 896.3,604.0 896.8,603.7 897.3,603.4 897.8,603.1 898.3,602.8 898.8,602.5 899.3,602.2 899.8,601.9 900.3,601.6 900.8,601.4 901.3,601.1 901.8,600.9 902.3,600.7 902.8,600.5 903.3,600.3 903.8,600.1 904.3,599.9 904.8,599.7 905.3,599.6 905.8,599.4 906.3,599.3 906.8,599.1 907.3,599.0 907.8,598.9 908.3,598.8 908.8,598.6 909.3,598.6 909.8,598.5 910.3,598.4 910.8,598.3 911.3,598.2 911.8,598.2 912.3,598.1 912.8,598.1 913.3,598.1 913.8,598.0 914.3,598.0 914.8,598.0 915.3,598.0 915.8,598.0 916.3,598.0 916.8,598.0 917.3,598.0 917.8,598.1 918.3,598.1 918.8,598.1 919.3,598.2 919.8,598.2 920.3,598.3 920.8,598.4 921.3,598.5 921.8,598.5 922.3,598.6 922.8,598.7 923.3,598.9 923.8,599.0 924.3,599.1 924.8,599.2 925.3,599.4 925.8,599.5 926.3,599.7 926.8,599.9 927.3,600.0 927.8,600.2 928.3,600.4 928.8,600.6 929.3,600.8 929.8,601.1 930.3,601.3 930.8,601.5 931.3,601.8 931.8,602.1 932.3,602.3 932.8,602.6 933.3,602.9 933.8,603.2 934.3,603.5 934.8,603.8 935.3,604.1 935.8,604.4 936.3,604.7 936.8,605.0 937.3,605.3 937.8,605.6 938.3,605.9 938.8,606.1 939.3,606.4 939.8,606.6 940.3,606.8 940.8,607.0 941.3,607.2 941.8,607.3 942.3,607.4 942.8,607.5 943.3,607.6 943.8,607.6 944.3,607.6 944.8,607.5 945.3,607.4 945.8,607.3 946.3,607.2 946.8,607.0 947.3,606.7 947.8,606.5 948.3,606.2 948.8,605.8 949.3,605.4 949.8,605.0 950.3,604.6 950.8,604.1 951.3,603.6 951.8,603.1 952.3,602.5 952.8,602.0 953.3,601.4 953.8,600.7 954.3,600.0 954.8,599.4 955.3,598.6 955.8,597.9 956.3,597.1 956.8,596.4 957.3,595.6 957.8,594.7 958.3,593.9 958.8,593.0 959.3,592.2 959.8,591.3 960.3,590.3 960.8,589.4 961.3,588.5 961.8,587.5 962.3,586.6 962.8,585.6 963.3,584.6 963.8,583.6 964.3,582.6 964.8,581.6 965.3,580.6 965.8,579.5 966.3,578.5 966.8,577.5 967.3,576.4 967.8,575.4 968.5,574.0" fill="none" stroke="#000000" stroke-width="8.4" stroke-linejoin="round"/><circle cx="112.8" cy="399.2" r="4.2" fill="#000000"/>
<line x1="277" y1="74" x2="277" y2="720.2" stroke="#00ff00" stroke-width="5.3" stroke-dasharray="15.6 15.94"/>
<line x1="446.4" y1="74" x2="446.4" y2="720.2" stroke="#0000ff" stroke-width="5.3" stroke-dasharray="15.6 15.94"/>
<line x1="712" y1="74" x2="712" y2="720.2" stroke="#000000" stroke-width="5.3" stroke-dasharray="15.6 15.94"/>
<rect x="112.8" y="67.7" width="855.70" height="652.50" fill="none" stroke="#262626" stroke-width="1.3"/>
<path d="M103.50,720.20H112.80M968.50,720.20H977.80M103.50,638.64H112.80M968.50,638.64H977.80M103.50,557.08H112.80M968.50,557.08H977.80M103.50,475.51H112.80M968.50,475.51H977.80M103.50,393.95H112.80M968.50,393.95H977.80M103.50,312.39H112.80M968.50,312.39H977.80M103.50,230.83H112.80M968.50,230.83H977.80M103.50,149.26H112.80M968.50,149.26H977.80M103.50,67.70H112.80M968.50,67.70H977.80M198.90,720.20V729.50M198.90,67.70V58.40M316.10,720.20V729.50M316.10,67.70V58.40M437.30,720.20V729.50M437.30,67.70V58.40M558.50,720.20V729.50M558.50,67.70V58.40M675.70,720.20V729.50M675.70,67.70V58.40M796.80,720.20V729.50M796.80,67.70V58.40M914.00,720.20V729.50M914.00,67.70V58.40" stroke="#262626" stroke-width="1.3" fill="none"/>
<text transform="translate(68.42,732.70) scale(1.0657,1)" font-size="37.14" font-weight="normal" fill="#262626">0</text>
<text transform="translate(68.67,651.14) scale(1.0005,1)" font-size="37.68" font-weight="normal" fill="#262626">1</text>
<text transform="translate(67.91,569.58) scale(1.1243,1)" font-size="37.14" font-weight="normal" fill="#262626">2</text>
<text transform="translate(68.40,488.01) scale(1.0769,1)" font-size="37.14" font-weight="normal" fill="#262626">3</text>
<text transform="translate(68.42,406.45) scale(1.0405,1)" font-size="37.68" font-weight="normal" fill="#262626">4</text>
<text transform="translate(68.40,324.89) scale(1.0769,1)" font-size="37.14" font-weight="normal" fill="#262626">5</text>
<text transform="translate(67.96,243.33) scale(1.1001,1)" font-size="37.14" font-weight="normal" fill="#262626">6</text>
<text transform="translate(67.91,161.76) scale(1.1082,1)" font-size="37.68" font-weight="normal" fill="#262626">7</text>
<text transform="translate(67.74,80.20) scale(1.1113,1)" font-size="37.14" font-weight="normal" fill="#262626">8</text>
<text transform="translate(167.46,775.20) scale(0.9361,1)" font-size="38.26" font-weight="normal" fill="#262626">Jun</text>
<text transform="translate(291.87,775.20) scale(0.9186,1)" font-size="38.26" font-weight="normal" fill="#262626">Jul</text>
<text transform="translate(402.00,775.20) scale(1.0150,1)" font-size="38.26" font-weight="normal" fill="#262626">Aug</text>
<text transform="translate(525.32,775.20) scale(0.9776,1)" font-size="38.26" font-weight="normal" fill="#262626">Sep</text>
<text transform="translate(643.85,775.20) scale(1.0142,1)" font-size="38.26" font-weight="normal" fill="#262626">Oct</text>
<text transform="translate(761.23,775.20) scale(1.0038,1)" font-size="38.26" font-weight="normal" fill="#262626">Nov</text>
<text transform="translate(879.24,775.20) scale(0.9986,1)" font-size="38.26" font-weight="normal" fill="#262626">Dec</text>
<text transform="translate(439.89,824.60) scale(1.0692,1)" font-size="41.45" font-weight="normal" fill="#262626">Year 2017</text>
<text transform="translate(51.2,608.23) rotate(-90) scale(1.0717,1)" font-size="42.32" fill="#262626">Bottom Oxygen (ml/l)</text>
<text transform="translate(268.93,50.40) scale(1.1394,1)" font-size="41.45" font-weight="bold" fill="#000">Forecast at Chaba, 2017</text>
<text transform="translate(127.52,649.70) scale(1.0507,1)" font-size="35.51" font-weight="normal" fill="#000">Hypoxia</text>
<rect x="743.2" y="93.2" width="199.8" height="133.8" fill="#fff" stroke="#262626" stroke-width="1.1"/>
<line x1="751.6" y1="118" x2="830.1" y2="118" stroke="#0000ff" stroke-width="8"/>
<line x1="751.6" y1="160.3" x2="830.1" y2="160.3" stroke="#ff0000" stroke-width="8"/>
<line x1="751.6" y1="203" x2="830.1" y2="203" stroke="#000000" stroke-width="8"/>
<text transform="translate(834.87,128.80) scale(1.0428,1)" font-size="35.07" font-weight="normal" fill="#000">Run 1</text>
<text transform="translate(834.84,171.30) scale(1.0853,1)" font-size="34.06" font-weight="normal" fill="#000">Run 2</text>
<text transform="translate(834.84,213.50) scale(1.0868,1)" font-size="34.06" font-weight="normal" fill="#000">Run 3</text>
<defs>
<radialGradient id="lgA" cx="0.36" cy="0.3" r="0.62">
<stop offset="0" stop-color="#6ac6cc" stop-opacity="1"/><stop offset="0.5" stop-color="#48aec0" stop-opacity="0.95"/><stop offset="1" stop-color="#3c8ccc" stop-opacity="0"/></radialGradient>
<radialGradient id="lgL" cx="0.22" cy="0.72" r="0.35"><stop offset="0" stop-color="#5c9ed6" stop-opacity="0.6"/><stop offset="1" stop-color="#5c9ed6" stop-opacity="0"/></radialGradient>
<linearGradient id="lgR" x1="0.58" y1="0.3" x2="1" y2="0.5">
<stop offset="0" stop-color="#1a48b0" stop-opacity="0"/><stop offset="1" stop-color="#1a44a8" stop-opacity="0.8"/></linearGradient>
<linearGradient id="lgB" x1="0" y1="0" x2="0" y2="1">
<stop offset="0.86" stop-color="#70b0b0" stop-opacity="0"/><stop offset="0.96" stop-color="#78b8b0" stop-opacity="0.8"/><stop offset="1" stop-color="#78b8b0" stop-opacity="0.9"/></linearGradient>
<radialGradient id="rg1" cx="0.5" cy="0" r="0.5" gradientTransform="translate(0.5,0) scale(0.5,1.15) translate(-0.5,0)">
<stop offset="0" stop-color="#e8ffff" stop-opacity="0.9"/><stop offset="0.55" stop-color="#b8ecf0" stop-opacity="0.4"/><stop offset="1" stop-color="#a0e0e8" stop-opacity="0"/></radialGradient>
<linearGradient id="ray" x1="0" y1="0" x2="0" y2="1"><stop offset="0" stop-color="#ffffff" stop-opacity="0.35"/><stop offset="1" stop-color="#ffffff" stop-opacity="0"/></linearGradient>
<filter id="bl" x="-20%" y="-20%" width="140%" height="140%"><feGaussianBlur stdDeviation="2.5"/></filter><filter id="bl2"><feGaussianBlur stdDeviation="0.6"/></filter>
<clipPath id="cc"><circle cx="582.1" cy="162.9" r="67.8"/></clipPath>
</defs>
<g clip-path="url(#cc)">
<rect x="514" y="95" width="137" height="137" fill="#3c80cc"/>
<rect x="514" y="95" width="137" height="137" fill="url(#lgA)"/>
<rect x="514" y="95" width="137" height="137" fill="url(#lgL)"/>
<rect x="514" y="95" width="137" height="137" fill="url(#lgR)"/>
<rect x="514" y="95" width="137" height="137" fill="url(#rg1)"/>
<path d="M572,95 L580,95 L566,170 L556,170 Z M584,95 L590,95 L596,165 L588,165 Z M592,95 L597,95 L620,150 L612,152 Z" fill="url(#ray)" filter="url(#bl)"/>
<rect x="514" y="95" width="137" height="137" fill="url(#lgB)"/>
<g fill="#2a8aa0" opacity="0.35" filter="url(#bl2)"><ellipse cx="536" cy="121" rx="4" ry="1.2" transform="rotate(20 536 121)"/><ellipse cx="556" cy="112" rx="2.5" ry="0.8"/><ellipse cx="562" cy="128" rx="3" ry="0.9" transform="rotate(15 562 128)"/><ellipse cx="548" cy="135" rx="2.5" ry="0.8"/><ellipse cx="575" cy="118" rx="2" ry="0.7"/></g>
<path d="M558,189 C563,184 572,183 578,183 L582,181 L586,184 C592,184 598,186 603,192 L613,187 L608,194 L611,202 L602,196 C596,199 586,200 576,198 C568,197 561,193 558,189 Z" fill="#7e9cc0" stroke="#b8d0e4" stroke-width="0.8"/>
<path d="M619,205 C624,202 630,203 636,206 L641,204 L638,208 L641,212 L635,209 C630,211 623,209 619,205 Z" fill="#7e9cc0" stroke="#b0c8e0" stroke-width="0.6"/>
</g>

<text transform="translate(524.79,173.20) scale(0.9329,1)" font-size="28.99" font-weight="normal" fill="#fff" stroke="#fff" stroke-width="0.9">J-SCOPE</text>
</svg></body></html>
